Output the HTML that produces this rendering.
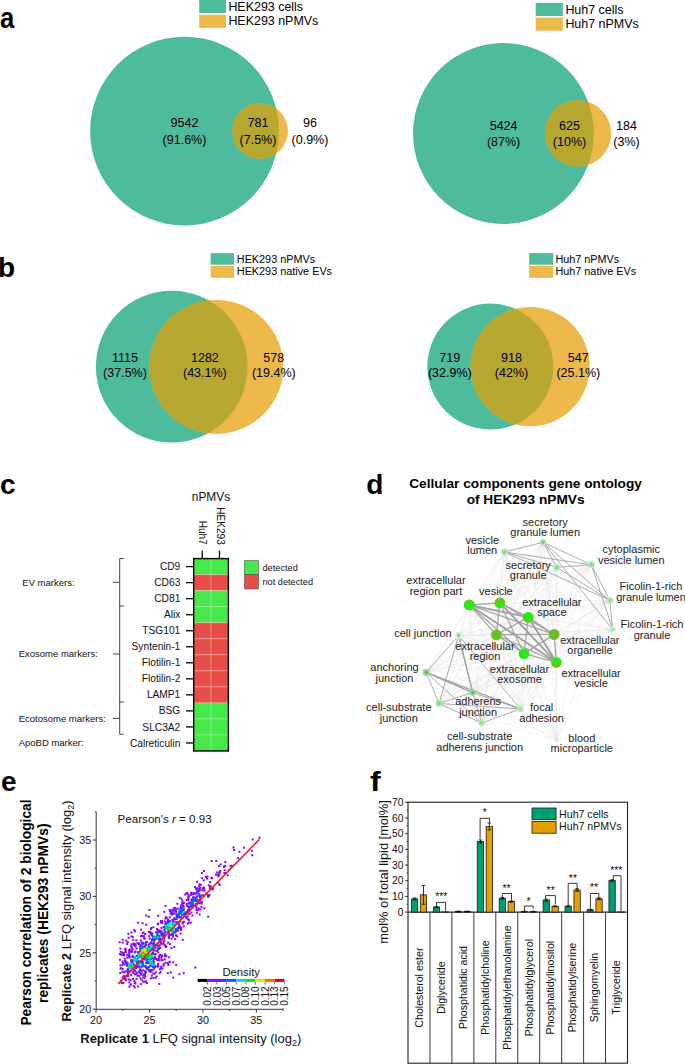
<!DOCTYPE html>
<html><head><meta charset="utf-8"><style>
html,body{margin:0;padding:0;background:#fff;width:685px;height:1064px;overflow:hidden}
svg{display:block}
text{font-family:"Liberation Sans", sans-serif}
</style></head><body>
<svg width="685" height="1064" viewBox="0 0 685 1064">
<text transform="translate(0,27.8) scale(0.92,1.05)" font-size="28" font-weight="bold">a</text>
<text x="-2.00" y="276.80" font-size="28" text-anchor="start" font-weight="bold" fill="#000" >b</text>
<rect x="199.2" y="0" width="26.8" height="12.9" fill="#4EBB9D"/>
<rect x="199.2" y="14.8" width="26.8" height="13.1" fill="#ECB94A"/>
<text x="228.40" y="10.60" font-size="12.45" text-anchor="start" font-weight="normal" fill="#000" >HEK293 cells</text>
<text x="228.40" y="25.30" font-size="12.45" text-anchor="start" font-weight="normal" fill="#000" >HEK293 nPMVs</text>
<defs><clipPath id="ca1"><circle cx="184.5" cy="131.1" r="94.4"/></clipPath></defs>
<circle cx="184.5" cy="131.1" r="94.4" fill="#4EBB9D"/>
<circle cx="260.1" cy="131.05" r="27.8" fill="#ECB94A"/>
<circle cx="260.1" cy="131.05" r="27.8" fill="#B7A832" clip-path="url(#ca1)"/>
<text x="184.50" y="127.30" font-size="12.5" text-anchor="middle" font-weight="normal" fill="#000" >9542</text>
<text x="184.50" y="143.70" font-size="12.5" text-anchor="middle" font-weight="normal" fill="#000" >(91.6%)</text>
<text x="258.00" y="127.30" font-size="12.5" text-anchor="middle" font-weight="normal" fill="#000" >781</text>
<text x="258.00" y="143.70" font-size="12.5" text-anchor="middle" font-weight="normal" fill="#000" >(7.5%)</text>
<text x="310.00" y="127.30" font-size="12.5" text-anchor="middle" font-weight="normal" fill="#000" >96</text>
<text x="310.00" y="143.70" font-size="12.5" text-anchor="middle" font-weight="normal" fill="#000" >(0.9%)</text>
<rect x="535.7" y="2.85" width="27.1" height="13.25" fill="#4EBB9D"/>
<rect x="535.7" y="17.65" width="27.1" height="13.05" fill="#ECB94A"/>
<text x="565.40" y="13.60" font-size="12.45" text-anchor="start" font-weight="normal" fill="#000" >Huh7 cells</text>
<text x="565.40" y="28.40" font-size="12.45" text-anchor="start" font-weight="normal" fill="#000" >Huh7 nPMVs</text>
<defs><clipPath id="ca2"><circle cx="503.4" cy="133.5" r="90.4"/></clipPath></defs>
<circle cx="503.4" cy="133.5" r="90.4" fill="#4EBB9D"/>
<circle cx="578" cy="133.4" r="33.2" fill="#ECB94A"/>
<circle cx="578" cy="133.4" r="33.2" fill="#B7A832" clip-path="url(#ca2)"/>
<text x="503.60" y="129.70" font-size="12.5" text-anchor="middle" font-weight="normal" fill="#000" >5424</text>
<text x="503.60" y="145.60" font-size="12.5" text-anchor="middle" font-weight="normal" fill="#000" >(87%)</text>
<text x="569.50" y="129.70" font-size="12.5" text-anchor="middle" font-weight="normal" fill="#000" >625</text>
<text x="569.50" y="145.60" font-size="12.5" text-anchor="middle" font-weight="normal" fill="#000" >(10%)</text>
<text x="626.50" y="129.70" font-size="12.5" text-anchor="middle" font-weight="normal" fill="#000" >184</text>
<text x="626.50" y="145.60" font-size="12.5" text-anchor="middle" font-weight="normal" fill="#000" >(3%)</text>
<rect x="210.7" y="253.1" width="23.3" height="11.6" fill="#4EBB9D"/>
<rect x="210.7" y="266" width="23.3" height="11.8" fill="#ECB94A"/>
<text x="236.80" y="262.70" font-size="10.85" text-anchor="start" font-weight="normal" fill="#000" >HEK293 nPMVs</text>
<text x="236.80" y="274.80" font-size="10.85" text-anchor="start" font-weight="normal" fill="#000" >HEK293 native EVs</text>
<defs><clipPath id="cb1"><circle cx="171.75" cy="366.7" r="75.9"/></clipPath></defs>
<circle cx="171.75" cy="366.7" r="75.9" fill="#4EBB9D"/>
<circle cx="216.3" cy="366.9" r="67" fill="#ECB94A"/>
<circle cx="216.3" cy="366.9" r="67" fill="#B7A832" clip-path="url(#cb1)"/>
<text x="125.00" y="362.20" font-size="12.5" text-anchor="middle" font-weight="normal" fill="#000" >1115</text>
<text x="125.00" y="377.00" font-size="12.5" text-anchor="middle" font-weight="normal" fill="#000" >(37.5%)</text>
<text x="204.90" y="362.20" font-size="12.5" text-anchor="middle" font-weight="normal" fill="#000" >1282</text>
<text x="204.90" y="377.00" font-size="12.5" text-anchor="middle" font-weight="normal" fill="#000" >(43.1%)</text>
<text x="273.80" y="362.20" font-size="12.5" text-anchor="middle" font-weight="normal" fill="#000" >578</text>
<text x="273.80" y="377.00" font-size="12.5" text-anchor="middle" font-weight="normal" fill="#000" >(19.4%)</text>
<rect x="529.2" y="253.1" width="23.9" height="11.6" fill="#4EBB9D"/>
<rect x="529.2" y="266" width="23.9" height="11.8" fill="#ECB94A"/>
<text x="555.40" y="262.70" font-size="10.85" text-anchor="start" font-weight="normal" fill="#000" >Huh7 nPMVs</text>
<text x="555.40" y="274.80" font-size="10.85" text-anchor="start" font-weight="normal" fill="#000" >Huh7 native EVs</text>
<defs><clipPath id="cb2"><circle cx="490.3" cy="366.6" r="63"/></clipPath></defs>
<circle cx="490.3" cy="366.6" r="63" fill="#4EBB9D"/>
<circle cx="530.1" cy="366.6" r="59.6" fill="#ECB94A"/>
<circle cx="530.1" cy="366.6" r="59.6" fill="#B7A832" clip-path="url(#cb2)"/>
<text x="449.80" y="361.90" font-size="12.5" text-anchor="middle" font-weight="normal" fill="#000" >719</text>
<text x="449.80" y="377.00" font-size="12.5" text-anchor="middle" font-weight="normal" fill="#000" >(32.9%)</text>
<text x="511.50" y="361.90" font-size="12.5" text-anchor="middle" font-weight="normal" fill="#000" >918</text>
<text x="511.50" y="377.00" font-size="12.5" text-anchor="middle" font-weight="normal" fill="#000" >(42%)</text>
<text x="578.30" y="361.90" font-size="12.5" text-anchor="middle" font-weight="normal" fill="#000" >547</text>
<text x="578.30" y="377.00" font-size="12.5" text-anchor="middle" font-weight="normal" fill="#000" >(25.1%)</text>
<text transform="translate(0,493.7)" font-size="28" font-weight="bold">c</text>
<rect x="193.7" y="558.60" width="34.70" height="16.03" fill="#46E84A"/>
<text x="180.30" y="570.22" font-size="10.2" text-anchor="end" font-weight="normal" fill="#111" >CD9</text>
<line x1="186" y1="566.62" x2="193.7" y2="566.62" stroke="#000" stroke-width="1.3"/>
<rect x="193.7" y="574.63" width="34.70" height="16.03" fill="#E84E48"/>
<text x="180.30" y="586.25" font-size="10.2" text-anchor="end" font-weight="normal" fill="#111" >CD63</text>
<line x1="186" y1="582.64" x2="193.7" y2="582.64" stroke="#000" stroke-width="1.3"/>
<rect x="193.7" y="590.66" width="34.70" height="16.03" fill="#46E84A"/>
<text x="180.30" y="602.28" font-size="10.2" text-anchor="end" font-weight="normal" fill="#111" >CD81</text>
<line x1="186" y1="598.68" x2="193.7" y2="598.68" stroke="#000" stroke-width="1.3"/>
<rect x="193.7" y="606.69" width="34.70" height="16.03" fill="#46E84A"/>
<text x="180.30" y="618.31" font-size="10.2" text-anchor="end" font-weight="normal" fill="#111" >Alix</text>
<line x1="186" y1="614.71" x2="193.7" y2="614.71" stroke="#000" stroke-width="1.3"/>
<rect x="193.7" y="622.72" width="34.70" height="16.03" fill="#E84E48"/>
<text x="180.30" y="634.34" font-size="10.2" text-anchor="end" font-weight="normal" fill="#111" >TSG101</text>
<line x1="186" y1="630.74" x2="193.7" y2="630.74" stroke="#000" stroke-width="1.3"/>
<rect x="193.7" y="638.75" width="34.70" height="16.03" fill="#E84E48"/>
<text x="180.30" y="650.37" font-size="10.2" text-anchor="end" font-weight="normal" fill="#111" >Syntenin-1</text>
<line x1="186" y1="646.76" x2="193.7" y2="646.76" stroke="#000" stroke-width="1.3"/>
<rect x="193.7" y="654.78" width="34.70" height="16.03" fill="#E84E48"/>
<text x="180.30" y="666.39" font-size="10.2" text-anchor="end" font-weight="normal" fill="#111" >Flotilin-1</text>
<line x1="186" y1="662.79" x2="193.7" y2="662.79" stroke="#000" stroke-width="1.3"/>
<rect x="193.7" y="670.81" width="34.70" height="16.03" fill="#E84E48"/>
<text x="180.30" y="682.43" font-size="10.2" text-anchor="end" font-weight="normal" fill="#111" >Flotilin-2</text>
<line x1="186" y1="678.83" x2="193.7" y2="678.83" stroke="#000" stroke-width="1.3"/>
<rect x="193.7" y="686.84" width="34.70" height="16.03" fill="#E84E48"/>
<text x="180.30" y="698.46" font-size="10.2" text-anchor="end" font-weight="normal" fill="#111" >LAMP1</text>
<line x1="186" y1="694.86" x2="193.7" y2="694.86" stroke="#000" stroke-width="1.3"/>
<rect x="193.7" y="702.87" width="34.70" height="16.03" fill="#46E84A"/>
<text x="180.30" y="714.49" font-size="10.2" text-anchor="end" font-weight="normal" fill="#111" >BSG</text>
<line x1="186" y1="710.88" x2="193.7" y2="710.88" stroke="#000" stroke-width="1.3"/>
<rect x="193.7" y="718.90" width="34.70" height="16.03" fill="#46E84A"/>
<text x="180.30" y="730.52" font-size="10.2" text-anchor="end" font-weight="normal" fill="#111" >SLC3A2</text>
<line x1="186" y1="726.92" x2="193.7" y2="726.92" stroke="#000" stroke-width="1.3"/>
<rect x="193.7" y="734.93" width="34.70" height="16.03" fill="#46E84A"/>
<text x="180.30" y="746.55" font-size="10.2" text-anchor="end" font-weight="normal" fill="#111" >Calreticulin</text>
<line x1="186" y1="742.95" x2="193.7" y2="742.95" stroke="#000" stroke-width="1.3"/>
<line x1="193.7" y1="574.63" x2="228.4" y2="574.63" stroke="#fff" stroke-opacity="0.3" stroke-width="1"/>
<line x1="193.7" y1="590.66" x2="228.4" y2="590.66" stroke="#fff" stroke-opacity="0.3" stroke-width="1"/>
<line x1="193.7" y1="606.69" x2="228.4" y2="606.69" stroke="#fff" stroke-opacity="0.3" stroke-width="1"/>
<line x1="193.7" y1="622.72" x2="228.4" y2="622.72" stroke="#fff" stroke-opacity="0.3" stroke-width="1"/>
<line x1="193.7" y1="638.75" x2="228.4" y2="638.75" stroke="#fff" stroke-opacity="0.3" stroke-width="1"/>
<line x1="193.7" y1="654.78" x2="228.4" y2="654.78" stroke="#fff" stroke-opacity="0.3" stroke-width="1"/>
<line x1="193.7" y1="670.81" x2="228.4" y2="670.81" stroke="#fff" stroke-opacity="0.3" stroke-width="1"/>
<line x1="193.7" y1="686.84" x2="228.4" y2="686.84" stroke="#fff" stroke-opacity="0.3" stroke-width="1"/>
<line x1="193.7" y1="702.87" x2="228.4" y2="702.87" stroke="#fff" stroke-opacity="0.3" stroke-width="1"/>
<line x1="193.7" y1="718.90" x2="228.4" y2="718.90" stroke="#fff" stroke-opacity="0.3" stroke-width="1"/>
<line x1="193.7" y1="734.93" x2="228.4" y2="734.93" stroke="#fff" stroke-opacity="0.3" stroke-width="1"/>
<line x1="210.9" y1="558.6" x2="210.9" y2="750.96" stroke="#fff" stroke-opacity="0.3" stroke-width="1.2"/>
<rect x="193.7" y="558.6" width="34.70" height="192.36" fill="none" stroke="#000" stroke-width="1.4"/>
<line x1="202.2" y1="550.6" x2="202.2" y2="558.6" stroke="#000" stroke-width="1.3"/>
<line x1="219.5" y1="550.6" x2="219.5" y2="558.6" stroke="#000" stroke-width="1.3"/>
<text x="211.00" y="501.40" font-size="11.9" text-anchor="middle" font-weight="normal" fill="#111" >nPMVs</text>
<text transform="translate(199.3,544.8) rotate(90)" font-size="10.1" text-anchor="end" fill="#111">Huh7</text>
<text transform="translate(216.7,544.8) rotate(90)" font-size="10.1" text-anchor="end" fill="#111">HEK293</text>
<rect x="244.5" y="560.5" width="14" height="14.2" fill="#46E84A" stroke="#555" stroke-width="0.6"/>
<rect x="244.5" y="574.7" width="14" height="14.3" fill="#E84E48" stroke="#555" stroke-width="0.6"/>
<text x="262.50" y="571.30" font-size="9.2" text-anchor="start" font-weight="normal" fill="#111" >detected</text>
<text x="262.50" y="584.80" font-size="9.2" text-anchor="start" font-weight="normal" fill="#111" >not detected</text>
<path d="M123.7,558.5 H119.7 V606 H123.7 M119.7,606 V702 H123.7 M119.7,702 V734.2 H123.7" fill="none" stroke="#444" stroke-width="1"/>
<line x1="113" y1="582.3" x2="119.7" y2="582.3" stroke="#444" stroke-width="1"/>
<line x1="113" y1="654.0" x2="119.7" y2="654.0" stroke="#444" stroke-width="1"/>
<line x1="113" y1="718.4" x2="119.7" y2="718.4" stroke="#444" stroke-width="1"/>
<text x="22.30" y="585.70" font-size="9.5" text-anchor="start" font-weight="normal" fill="#111" >EV markers:</text>
<text x="18.70" y="657.40" font-size="9.5" text-anchor="start" font-weight="normal" fill="#111" >Exosome markers:</text>
<text x="18.70" y="721.80" font-size="9.5" text-anchor="start" font-weight="normal" fill="#111" >Ecotosome markers:</text>
<text x="18.70" y="746.40" font-size="9.5" text-anchor="start" font-weight="normal" fill="#111" >ApoBD marker:</text>
<text transform="translate(366.3,493.6)" font-size="28" font-weight="bold">d</text>
<text x="525.60" y="487.60" font-size="13.7" text-anchor="middle" font-weight="bold" fill="#000" >Cellular components gene ontology</text>
<text x="525.60" y="504.20" font-size="13.7" text-anchor="middle" font-weight="bold" fill="#000" >of HEK293 nPMVs</text>
<line x1="469.3" y1="604.9" x2="499.9" y2="602.8" stroke="#d4d4d4" stroke-width="0.5" stroke-opacity="0.45"/>
<line x1="469.3" y1="604.9" x2="528.3" y2="617.3" stroke="#d4d4d4" stroke-width="0.5" stroke-opacity="0.45"/>
<line x1="469.3" y1="604.9" x2="496.4" y2="634.8" stroke="#d4d4d4" stroke-width="0.5" stroke-opacity="0.45"/>
<line x1="469.3" y1="604.9" x2="554.2" y2="634.4" stroke="#d4d4d4" stroke-width="0.5" stroke-opacity="0.45"/>
<line x1="469.3" y1="604.9" x2="524.0" y2="653.7" stroke="#d4d4d4" stroke-width="0.5" stroke-opacity="0.45"/>
<line x1="469.3" y1="604.9" x2="556.4" y2="662.3" stroke="#d4d4d4" stroke-width="0.5" stroke-opacity="0.45"/>
<line x1="469.3" y1="604.9" x2="458.6" y2="635.5" stroke="#d4d4d4" stroke-width="0.5" stroke-opacity="0.45"/>
<line x1="469.3" y1="604.9" x2="504.4" y2="552.0" stroke="#d4d4d4" stroke-width="0.5" stroke-opacity="0.45"/>
<line x1="469.3" y1="604.9" x2="543.1" y2="542.3" stroke="#d4d4d4" stroke-width="0.5" stroke-opacity="0.45"/>
<line x1="469.3" y1="604.9" x2="556.8" y2="567.4" stroke="#d4d4d4" stroke-width="0.5" stroke-opacity="0.45"/>
<line x1="469.3" y1="604.9" x2="591.4" y2="564.8" stroke="#d4d4d4" stroke-width="0.5" stroke-opacity="0.45"/>
<line x1="469.3" y1="604.9" x2="609.8" y2="600.4" stroke="#d4d4d4" stroke-width="0.5" stroke-opacity="0.45"/>
<line x1="469.3" y1="604.9" x2="612.7" y2="629.5" stroke="#d4d4d4" stroke-width="0.5" stroke-opacity="0.45"/>
<line x1="469.3" y1="604.9" x2="426.2" y2="672.4" stroke="#d4d4d4" stroke-width="0.5" stroke-opacity="0.45"/>
<line x1="469.3" y1="604.9" x2="472.7" y2="692.6" stroke="#d4d4d4" stroke-width="0.5" stroke-opacity="0.45"/>
<line x1="469.3" y1="604.9" x2="439.0" y2="703.5" stroke="#d4d4d4" stroke-width="0.5" stroke-opacity="0.45"/>
<line x1="469.3" y1="604.9" x2="520.4" y2="708.9" stroke="#d4d4d4" stroke-width="0.5" stroke-opacity="0.45"/>
<line x1="469.3" y1="604.9" x2="481.6" y2="723.0" stroke="#d4d4d4" stroke-width="0.5" stroke-opacity="0.45"/>
<line x1="469.3" y1="604.9" x2="556.8" y2="739.6" stroke="#d4d4d4" stroke-width="0.5" stroke-opacity="0.45"/>
<line x1="499.9" y1="602.8" x2="528.3" y2="617.3" stroke="#d4d4d4" stroke-width="0.5" stroke-opacity="0.45"/>
<line x1="499.9" y1="602.8" x2="496.4" y2="634.8" stroke="#d4d4d4" stroke-width="0.5" stroke-opacity="0.45"/>
<line x1="499.9" y1="602.8" x2="554.2" y2="634.4" stroke="#d4d4d4" stroke-width="0.5" stroke-opacity="0.45"/>
<line x1="499.9" y1="602.8" x2="524.0" y2="653.7" stroke="#d4d4d4" stroke-width="0.5" stroke-opacity="0.45"/>
<line x1="499.9" y1="602.8" x2="556.4" y2="662.3" stroke="#d4d4d4" stroke-width="0.5" stroke-opacity="0.45"/>
<line x1="499.9" y1="602.8" x2="458.6" y2="635.5" stroke="#d4d4d4" stroke-width="0.5" stroke-opacity="0.45"/>
<line x1="499.9" y1="602.8" x2="504.4" y2="552.0" stroke="#d4d4d4" stroke-width="0.5" stroke-opacity="0.45"/>
<line x1="499.9" y1="602.8" x2="543.1" y2="542.3" stroke="#d4d4d4" stroke-width="0.5" stroke-opacity="0.45"/>
<line x1="499.9" y1="602.8" x2="556.8" y2="567.4" stroke="#d4d4d4" stroke-width="0.5" stroke-opacity="0.45"/>
<line x1="499.9" y1="602.8" x2="591.4" y2="564.8" stroke="#d4d4d4" stroke-width="0.5" stroke-opacity="0.45"/>
<line x1="499.9" y1="602.8" x2="609.8" y2="600.4" stroke="#d4d4d4" stroke-width="0.5" stroke-opacity="0.45"/>
<line x1="499.9" y1="602.8" x2="612.7" y2="629.5" stroke="#d4d4d4" stroke-width="0.5" stroke-opacity="0.45"/>
<line x1="499.9" y1="602.8" x2="426.2" y2="672.4" stroke="#d4d4d4" stroke-width="0.5" stroke-opacity="0.45"/>
<line x1="499.9" y1="602.8" x2="472.7" y2="692.6" stroke="#d4d4d4" stroke-width="0.5" stroke-opacity="0.45"/>
<line x1="499.9" y1="602.8" x2="439.0" y2="703.5" stroke="#d4d4d4" stroke-width="0.5" stroke-opacity="0.45"/>
<line x1="499.9" y1="602.8" x2="520.4" y2="708.9" stroke="#d4d4d4" stroke-width="0.5" stroke-opacity="0.45"/>
<line x1="499.9" y1="602.8" x2="481.6" y2="723.0" stroke="#d4d4d4" stroke-width="0.5" stroke-opacity="0.45"/>
<line x1="499.9" y1="602.8" x2="556.8" y2="739.6" stroke="#d4d4d4" stroke-width="0.5" stroke-opacity="0.45"/>
<line x1="528.3" y1="617.3" x2="496.4" y2="634.8" stroke="#d4d4d4" stroke-width="0.5" stroke-opacity="0.45"/>
<line x1="528.3" y1="617.3" x2="554.2" y2="634.4" stroke="#d4d4d4" stroke-width="0.5" stroke-opacity="0.45"/>
<line x1="528.3" y1="617.3" x2="524.0" y2="653.7" stroke="#d4d4d4" stroke-width="0.5" stroke-opacity="0.45"/>
<line x1="528.3" y1="617.3" x2="556.4" y2="662.3" stroke="#d4d4d4" stroke-width="0.5" stroke-opacity="0.45"/>
<line x1="528.3" y1="617.3" x2="458.6" y2="635.5" stroke="#d4d4d4" stroke-width="0.5" stroke-opacity="0.45"/>
<line x1="528.3" y1="617.3" x2="504.4" y2="552.0" stroke="#d4d4d4" stroke-width="0.5" stroke-opacity="0.45"/>
<line x1="528.3" y1="617.3" x2="543.1" y2="542.3" stroke="#d4d4d4" stroke-width="0.5" stroke-opacity="0.45"/>
<line x1="528.3" y1="617.3" x2="556.8" y2="567.4" stroke="#d4d4d4" stroke-width="0.5" stroke-opacity="0.45"/>
<line x1="528.3" y1="617.3" x2="591.4" y2="564.8" stroke="#d4d4d4" stroke-width="0.5" stroke-opacity="0.45"/>
<line x1="528.3" y1="617.3" x2="609.8" y2="600.4" stroke="#d4d4d4" stroke-width="0.5" stroke-opacity="0.45"/>
<line x1="528.3" y1="617.3" x2="612.7" y2="629.5" stroke="#d4d4d4" stroke-width="0.5" stroke-opacity="0.45"/>
<line x1="528.3" y1="617.3" x2="426.2" y2="672.4" stroke="#d4d4d4" stroke-width="0.5" stroke-opacity="0.45"/>
<line x1="528.3" y1="617.3" x2="472.7" y2="692.6" stroke="#d4d4d4" stroke-width="0.5" stroke-opacity="0.45"/>
<line x1="528.3" y1="617.3" x2="439.0" y2="703.5" stroke="#d4d4d4" stroke-width="0.5" stroke-opacity="0.45"/>
<line x1="528.3" y1="617.3" x2="520.4" y2="708.9" stroke="#d4d4d4" stroke-width="0.5" stroke-opacity="0.45"/>
<line x1="528.3" y1="617.3" x2="481.6" y2="723.0" stroke="#d4d4d4" stroke-width="0.5" stroke-opacity="0.45"/>
<line x1="528.3" y1="617.3" x2="556.8" y2="739.6" stroke="#d4d4d4" stroke-width="0.5" stroke-opacity="0.45"/>
<line x1="496.4" y1="634.8" x2="554.2" y2="634.4" stroke="#d4d4d4" stroke-width="0.5" stroke-opacity="0.45"/>
<line x1="496.4" y1="634.8" x2="524.0" y2="653.7" stroke="#d4d4d4" stroke-width="0.5" stroke-opacity="0.45"/>
<line x1="496.4" y1="634.8" x2="556.4" y2="662.3" stroke="#d4d4d4" stroke-width="0.5" stroke-opacity="0.45"/>
<line x1="496.4" y1="634.8" x2="458.6" y2="635.5" stroke="#d4d4d4" stroke-width="0.5" stroke-opacity="0.45"/>
<line x1="496.4" y1="634.8" x2="504.4" y2="552.0" stroke="#d4d4d4" stroke-width="0.5" stroke-opacity="0.45"/>
<line x1="496.4" y1="634.8" x2="543.1" y2="542.3" stroke="#d4d4d4" stroke-width="0.5" stroke-opacity="0.45"/>
<line x1="496.4" y1="634.8" x2="556.8" y2="567.4" stroke="#d4d4d4" stroke-width="0.5" stroke-opacity="0.45"/>
<line x1="496.4" y1="634.8" x2="591.4" y2="564.8" stroke="#d4d4d4" stroke-width="0.5" stroke-opacity="0.45"/>
<line x1="496.4" y1="634.8" x2="609.8" y2="600.4" stroke="#d4d4d4" stroke-width="0.5" stroke-opacity="0.45"/>
<line x1="496.4" y1="634.8" x2="612.7" y2="629.5" stroke="#d4d4d4" stroke-width="0.5" stroke-opacity="0.45"/>
<line x1="496.4" y1="634.8" x2="426.2" y2="672.4" stroke="#d4d4d4" stroke-width="0.5" stroke-opacity="0.45"/>
<line x1="496.4" y1="634.8" x2="472.7" y2="692.6" stroke="#d4d4d4" stroke-width="0.5" stroke-opacity="0.45"/>
<line x1="496.4" y1="634.8" x2="439.0" y2="703.5" stroke="#d4d4d4" stroke-width="0.5" stroke-opacity="0.45"/>
<line x1="496.4" y1="634.8" x2="520.4" y2="708.9" stroke="#d4d4d4" stroke-width="0.5" stroke-opacity="0.45"/>
<line x1="496.4" y1="634.8" x2="481.6" y2="723.0" stroke="#d4d4d4" stroke-width="0.5" stroke-opacity="0.45"/>
<line x1="496.4" y1="634.8" x2="556.8" y2="739.6" stroke="#d4d4d4" stroke-width="0.5" stroke-opacity="0.45"/>
<line x1="554.2" y1="634.4" x2="524.0" y2="653.7" stroke="#d4d4d4" stroke-width="0.5" stroke-opacity="0.45"/>
<line x1="554.2" y1="634.4" x2="556.4" y2="662.3" stroke="#d4d4d4" stroke-width="0.5" stroke-opacity="0.45"/>
<line x1="554.2" y1="634.4" x2="458.6" y2="635.5" stroke="#d4d4d4" stroke-width="0.5" stroke-opacity="0.45"/>
<line x1="554.2" y1="634.4" x2="504.4" y2="552.0" stroke="#d4d4d4" stroke-width="0.5" stroke-opacity="0.45"/>
<line x1="554.2" y1="634.4" x2="543.1" y2="542.3" stroke="#d4d4d4" stroke-width="0.5" stroke-opacity="0.45"/>
<line x1="554.2" y1="634.4" x2="556.8" y2="567.4" stroke="#d4d4d4" stroke-width="0.5" stroke-opacity="0.45"/>
<line x1="554.2" y1="634.4" x2="591.4" y2="564.8" stroke="#d4d4d4" stroke-width="0.5" stroke-opacity="0.45"/>
<line x1="554.2" y1="634.4" x2="609.8" y2="600.4" stroke="#d4d4d4" stroke-width="0.5" stroke-opacity="0.45"/>
<line x1="554.2" y1="634.4" x2="612.7" y2="629.5" stroke="#d4d4d4" stroke-width="0.5" stroke-opacity="0.45"/>
<line x1="554.2" y1="634.4" x2="426.2" y2="672.4" stroke="#d4d4d4" stroke-width="0.5" stroke-opacity="0.45"/>
<line x1="554.2" y1="634.4" x2="472.7" y2="692.6" stroke="#d4d4d4" stroke-width="0.5" stroke-opacity="0.45"/>
<line x1="554.2" y1="634.4" x2="439.0" y2="703.5" stroke="#d4d4d4" stroke-width="0.5" stroke-opacity="0.45"/>
<line x1="554.2" y1="634.4" x2="520.4" y2="708.9" stroke="#d4d4d4" stroke-width="0.5" stroke-opacity="0.45"/>
<line x1="554.2" y1="634.4" x2="481.6" y2="723.0" stroke="#d4d4d4" stroke-width="0.5" stroke-opacity="0.45"/>
<line x1="554.2" y1="634.4" x2="556.8" y2="739.6" stroke="#d4d4d4" stroke-width="0.5" stroke-opacity="0.45"/>
<line x1="524.0" y1="653.7" x2="556.4" y2="662.3" stroke="#d4d4d4" stroke-width="0.5" stroke-opacity="0.45"/>
<line x1="524.0" y1="653.7" x2="458.6" y2="635.5" stroke="#d4d4d4" stroke-width="0.5" stroke-opacity="0.45"/>
<line x1="524.0" y1="653.7" x2="504.4" y2="552.0" stroke="#d4d4d4" stroke-width="0.5" stroke-opacity="0.45"/>
<line x1="524.0" y1="653.7" x2="543.1" y2="542.3" stroke="#d4d4d4" stroke-width="0.5" stroke-opacity="0.45"/>
<line x1="524.0" y1="653.7" x2="556.8" y2="567.4" stroke="#d4d4d4" stroke-width="0.5" stroke-opacity="0.45"/>
<line x1="524.0" y1="653.7" x2="591.4" y2="564.8" stroke="#d4d4d4" stroke-width="0.5" stroke-opacity="0.45"/>
<line x1="524.0" y1="653.7" x2="609.8" y2="600.4" stroke="#d4d4d4" stroke-width="0.5" stroke-opacity="0.45"/>
<line x1="524.0" y1="653.7" x2="612.7" y2="629.5" stroke="#d4d4d4" stroke-width="0.5" stroke-opacity="0.45"/>
<line x1="524.0" y1="653.7" x2="426.2" y2="672.4" stroke="#d4d4d4" stroke-width="0.5" stroke-opacity="0.45"/>
<line x1="524.0" y1="653.7" x2="472.7" y2="692.6" stroke="#d4d4d4" stroke-width="0.5" stroke-opacity="0.45"/>
<line x1="524.0" y1="653.7" x2="439.0" y2="703.5" stroke="#d4d4d4" stroke-width="0.5" stroke-opacity="0.45"/>
<line x1="524.0" y1="653.7" x2="520.4" y2="708.9" stroke="#d4d4d4" stroke-width="0.5" stroke-opacity="0.45"/>
<line x1="524.0" y1="653.7" x2="481.6" y2="723.0" stroke="#d4d4d4" stroke-width="0.5" stroke-opacity="0.45"/>
<line x1="524.0" y1="653.7" x2="556.8" y2="739.6" stroke="#d4d4d4" stroke-width="0.5" stroke-opacity="0.45"/>
<line x1="556.4" y1="662.3" x2="458.6" y2="635.5" stroke="#d4d4d4" stroke-width="0.5" stroke-opacity="0.45"/>
<line x1="556.4" y1="662.3" x2="504.4" y2="552.0" stroke="#d4d4d4" stroke-width="0.5" stroke-opacity="0.45"/>
<line x1="556.4" y1="662.3" x2="543.1" y2="542.3" stroke="#d4d4d4" stroke-width="0.5" stroke-opacity="0.45"/>
<line x1="556.4" y1="662.3" x2="556.8" y2="567.4" stroke="#d4d4d4" stroke-width="0.5" stroke-opacity="0.45"/>
<line x1="556.4" y1="662.3" x2="591.4" y2="564.8" stroke="#d4d4d4" stroke-width="0.5" stroke-opacity="0.45"/>
<line x1="556.4" y1="662.3" x2="609.8" y2="600.4" stroke="#d4d4d4" stroke-width="0.5" stroke-opacity="0.45"/>
<line x1="556.4" y1="662.3" x2="612.7" y2="629.5" stroke="#d4d4d4" stroke-width="0.5" stroke-opacity="0.45"/>
<line x1="556.4" y1="662.3" x2="426.2" y2="672.4" stroke="#d4d4d4" stroke-width="0.5" stroke-opacity="0.45"/>
<line x1="556.4" y1="662.3" x2="472.7" y2="692.6" stroke="#d4d4d4" stroke-width="0.5" stroke-opacity="0.45"/>
<line x1="556.4" y1="662.3" x2="439.0" y2="703.5" stroke="#d4d4d4" stroke-width="0.5" stroke-opacity="0.45"/>
<line x1="556.4" y1="662.3" x2="520.4" y2="708.9" stroke="#d4d4d4" stroke-width="0.5" stroke-opacity="0.45"/>
<line x1="556.4" y1="662.3" x2="481.6" y2="723.0" stroke="#d4d4d4" stroke-width="0.5" stroke-opacity="0.45"/>
<line x1="556.4" y1="662.3" x2="556.8" y2="739.6" stroke="#d4d4d4" stroke-width="0.5" stroke-opacity="0.45"/>
<line x1="458.6" y1="635.5" x2="504.4" y2="552.0" stroke="#d4d4d4" stroke-width="0.5" stroke-opacity="0.45"/>
<line x1="458.6" y1="635.5" x2="543.1" y2="542.3" stroke="#d4d4d4" stroke-width="0.5" stroke-opacity="0.45"/>
<line x1="458.6" y1="635.5" x2="556.8" y2="567.4" stroke="#d4d4d4" stroke-width="0.5" stroke-opacity="0.45"/>
<line x1="458.6" y1="635.5" x2="591.4" y2="564.8" stroke="#d4d4d4" stroke-width="0.5" stroke-opacity="0.45"/>
<line x1="458.6" y1="635.5" x2="609.8" y2="600.4" stroke="#d4d4d4" stroke-width="0.5" stroke-opacity="0.45"/>
<line x1="458.6" y1="635.5" x2="612.7" y2="629.5" stroke="#d4d4d4" stroke-width="0.5" stroke-opacity="0.45"/>
<line x1="458.6" y1="635.5" x2="426.2" y2="672.4" stroke="#d4d4d4" stroke-width="0.5" stroke-opacity="0.45"/>
<line x1="458.6" y1="635.5" x2="472.7" y2="692.6" stroke="#d4d4d4" stroke-width="0.5" stroke-opacity="0.45"/>
<line x1="458.6" y1="635.5" x2="439.0" y2="703.5" stroke="#d4d4d4" stroke-width="0.5" stroke-opacity="0.45"/>
<line x1="458.6" y1="635.5" x2="520.4" y2="708.9" stroke="#d4d4d4" stroke-width="0.5" stroke-opacity="0.45"/>
<line x1="458.6" y1="635.5" x2="481.6" y2="723.0" stroke="#d4d4d4" stroke-width="0.5" stroke-opacity="0.45"/>
<line x1="458.6" y1="635.5" x2="556.8" y2="739.6" stroke="#d4d4d4" stroke-width="0.5" stroke-opacity="0.45"/>
<line x1="504.4" y1="552.0" x2="543.1" y2="542.3" stroke="#d4d4d4" stroke-width="0.5" stroke-opacity="0.45"/>
<line x1="504.4" y1="552.0" x2="556.8" y2="567.4" stroke="#d4d4d4" stroke-width="0.5" stroke-opacity="0.45"/>
<line x1="504.4" y1="552.0" x2="591.4" y2="564.8" stroke="#d4d4d4" stroke-width="0.5" stroke-opacity="0.45"/>
<line x1="504.4" y1="552.0" x2="609.8" y2="600.4" stroke="#d4d4d4" stroke-width="0.5" stroke-opacity="0.45"/>
<line x1="504.4" y1="552.0" x2="612.7" y2="629.5" stroke="#d4d4d4" stroke-width="0.5" stroke-opacity="0.45"/>
<line x1="504.4" y1="552.0" x2="426.2" y2="672.4" stroke="#d4d4d4" stroke-width="0.5" stroke-opacity="0.45"/>
<line x1="504.4" y1="552.0" x2="472.7" y2="692.6" stroke="#d4d4d4" stroke-width="0.5" stroke-opacity="0.45"/>
<line x1="504.4" y1="552.0" x2="439.0" y2="703.5" stroke="#d4d4d4" stroke-width="0.5" stroke-opacity="0.45"/>
<line x1="504.4" y1="552.0" x2="520.4" y2="708.9" stroke="#d4d4d4" stroke-width="0.5" stroke-opacity="0.45"/>
<line x1="504.4" y1="552.0" x2="481.6" y2="723.0" stroke="#d4d4d4" stroke-width="0.5" stroke-opacity="0.45"/>
<line x1="504.4" y1="552.0" x2="556.8" y2="739.6" stroke="#d4d4d4" stroke-width="0.5" stroke-opacity="0.45"/>
<line x1="543.1" y1="542.3" x2="556.8" y2="567.4" stroke="#d4d4d4" stroke-width="0.5" stroke-opacity="0.45"/>
<line x1="543.1" y1="542.3" x2="591.4" y2="564.8" stroke="#d4d4d4" stroke-width="0.5" stroke-opacity="0.45"/>
<line x1="543.1" y1="542.3" x2="609.8" y2="600.4" stroke="#d4d4d4" stroke-width="0.5" stroke-opacity="0.45"/>
<line x1="543.1" y1="542.3" x2="612.7" y2="629.5" stroke="#d4d4d4" stroke-width="0.5" stroke-opacity="0.45"/>
<line x1="543.1" y1="542.3" x2="426.2" y2="672.4" stroke="#d4d4d4" stroke-width="0.5" stroke-opacity="0.45"/>
<line x1="543.1" y1="542.3" x2="472.7" y2="692.6" stroke="#d4d4d4" stroke-width="0.5" stroke-opacity="0.45"/>
<line x1="543.1" y1="542.3" x2="439.0" y2="703.5" stroke="#d4d4d4" stroke-width="0.5" stroke-opacity="0.45"/>
<line x1="543.1" y1="542.3" x2="520.4" y2="708.9" stroke="#d4d4d4" stroke-width="0.5" stroke-opacity="0.45"/>
<line x1="543.1" y1="542.3" x2="481.6" y2="723.0" stroke="#d4d4d4" stroke-width="0.5" stroke-opacity="0.45"/>
<line x1="543.1" y1="542.3" x2="556.8" y2="739.6" stroke="#d4d4d4" stroke-width="0.5" stroke-opacity="0.45"/>
<line x1="556.8" y1="567.4" x2="591.4" y2="564.8" stroke="#d4d4d4" stroke-width="0.5" stroke-opacity="0.45"/>
<line x1="556.8" y1="567.4" x2="609.8" y2="600.4" stroke="#d4d4d4" stroke-width="0.5" stroke-opacity="0.45"/>
<line x1="556.8" y1="567.4" x2="612.7" y2="629.5" stroke="#d4d4d4" stroke-width="0.5" stroke-opacity="0.45"/>
<line x1="556.8" y1="567.4" x2="426.2" y2="672.4" stroke="#d4d4d4" stroke-width="0.5" stroke-opacity="0.45"/>
<line x1="556.8" y1="567.4" x2="472.7" y2="692.6" stroke="#d4d4d4" stroke-width="0.5" stroke-opacity="0.45"/>
<line x1="556.8" y1="567.4" x2="439.0" y2="703.5" stroke="#d4d4d4" stroke-width="0.5" stroke-opacity="0.45"/>
<line x1="556.8" y1="567.4" x2="520.4" y2="708.9" stroke="#d4d4d4" stroke-width="0.5" stroke-opacity="0.45"/>
<line x1="556.8" y1="567.4" x2="481.6" y2="723.0" stroke="#d4d4d4" stroke-width="0.5" stroke-opacity="0.45"/>
<line x1="556.8" y1="567.4" x2="556.8" y2="739.6" stroke="#d4d4d4" stroke-width="0.5" stroke-opacity="0.45"/>
<line x1="591.4" y1="564.8" x2="609.8" y2="600.4" stroke="#d4d4d4" stroke-width="0.5" stroke-opacity="0.45"/>
<line x1="591.4" y1="564.8" x2="612.7" y2="629.5" stroke="#d4d4d4" stroke-width="0.5" stroke-opacity="0.45"/>
<line x1="591.4" y1="564.8" x2="426.2" y2="672.4" stroke="#d4d4d4" stroke-width="0.5" stroke-opacity="0.45"/>
<line x1="591.4" y1="564.8" x2="472.7" y2="692.6" stroke="#d4d4d4" stroke-width="0.5" stroke-opacity="0.45"/>
<line x1="591.4" y1="564.8" x2="439.0" y2="703.5" stroke="#d4d4d4" stroke-width="0.5" stroke-opacity="0.45"/>
<line x1="591.4" y1="564.8" x2="520.4" y2="708.9" stroke="#d4d4d4" stroke-width="0.5" stroke-opacity="0.45"/>
<line x1="591.4" y1="564.8" x2="481.6" y2="723.0" stroke="#d4d4d4" stroke-width="0.5" stroke-opacity="0.45"/>
<line x1="591.4" y1="564.8" x2="556.8" y2="739.6" stroke="#d4d4d4" stroke-width="0.5" stroke-opacity="0.45"/>
<line x1="609.8" y1="600.4" x2="612.7" y2="629.5" stroke="#d4d4d4" stroke-width="0.5" stroke-opacity="0.45"/>
<line x1="609.8" y1="600.4" x2="426.2" y2="672.4" stroke="#d4d4d4" stroke-width="0.5" stroke-opacity="0.45"/>
<line x1="609.8" y1="600.4" x2="472.7" y2="692.6" stroke="#d4d4d4" stroke-width="0.5" stroke-opacity="0.45"/>
<line x1="609.8" y1="600.4" x2="439.0" y2="703.5" stroke="#d4d4d4" stroke-width="0.5" stroke-opacity="0.45"/>
<line x1="609.8" y1="600.4" x2="520.4" y2="708.9" stroke="#d4d4d4" stroke-width="0.5" stroke-opacity="0.45"/>
<line x1="609.8" y1="600.4" x2="481.6" y2="723.0" stroke="#d4d4d4" stroke-width="0.5" stroke-opacity="0.45"/>
<line x1="609.8" y1="600.4" x2="556.8" y2="739.6" stroke="#d4d4d4" stroke-width="0.5" stroke-opacity="0.45"/>
<line x1="612.7" y1="629.5" x2="426.2" y2="672.4" stroke="#d4d4d4" stroke-width="0.5" stroke-opacity="0.45"/>
<line x1="612.7" y1="629.5" x2="472.7" y2="692.6" stroke="#d4d4d4" stroke-width="0.5" stroke-opacity="0.45"/>
<line x1="612.7" y1="629.5" x2="439.0" y2="703.5" stroke="#d4d4d4" stroke-width="0.5" stroke-opacity="0.45"/>
<line x1="612.7" y1="629.5" x2="520.4" y2="708.9" stroke="#d4d4d4" stroke-width="0.5" stroke-opacity="0.45"/>
<line x1="612.7" y1="629.5" x2="481.6" y2="723.0" stroke="#d4d4d4" stroke-width="0.5" stroke-opacity="0.45"/>
<line x1="612.7" y1="629.5" x2="556.8" y2="739.6" stroke="#d4d4d4" stroke-width="0.5" stroke-opacity="0.45"/>
<line x1="426.2" y1="672.4" x2="472.7" y2="692.6" stroke="#d4d4d4" stroke-width="0.5" stroke-opacity="0.45"/>
<line x1="426.2" y1="672.4" x2="439.0" y2="703.5" stroke="#d4d4d4" stroke-width="0.5" stroke-opacity="0.45"/>
<line x1="426.2" y1="672.4" x2="520.4" y2="708.9" stroke="#d4d4d4" stroke-width="0.5" stroke-opacity="0.45"/>
<line x1="426.2" y1="672.4" x2="481.6" y2="723.0" stroke="#d4d4d4" stroke-width="0.5" stroke-opacity="0.45"/>
<line x1="426.2" y1="672.4" x2="556.8" y2="739.6" stroke="#d4d4d4" stroke-width="0.5" stroke-opacity="0.45"/>
<line x1="472.7" y1="692.6" x2="439.0" y2="703.5" stroke="#d4d4d4" stroke-width="0.5" stroke-opacity="0.45"/>
<line x1="472.7" y1="692.6" x2="520.4" y2="708.9" stroke="#d4d4d4" stroke-width="0.5" stroke-opacity="0.45"/>
<line x1="472.7" y1="692.6" x2="481.6" y2="723.0" stroke="#d4d4d4" stroke-width="0.5" stroke-opacity="0.45"/>
<line x1="472.7" y1="692.6" x2="556.8" y2="739.6" stroke="#d4d4d4" stroke-width="0.5" stroke-opacity="0.45"/>
<line x1="439.0" y1="703.5" x2="520.4" y2="708.9" stroke="#d4d4d4" stroke-width="0.5" stroke-opacity="0.45"/>
<line x1="439.0" y1="703.5" x2="481.6" y2="723.0" stroke="#d4d4d4" stroke-width="0.5" stroke-opacity="0.45"/>
<line x1="439.0" y1="703.5" x2="556.8" y2="739.6" stroke="#d4d4d4" stroke-width="0.5" stroke-opacity="0.45"/>
<line x1="520.4" y1="708.9" x2="481.6" y2="723.0" stroke="#d4d4d4" stroke-width="0.5" stroke-opacity="0.45"/>
<line x1="520.4" y1="708.9" x2="556.8" y2="739.6" stroke="#d4d4d4" stroke-width="0.5" stroke-opacity="0.45"/>
<line x1="481.6" y1="723.0" x2="556.8" y2="739.6" stroke="#d4d4d4" stroke-width="0.5" stroke-opacity="0.45"/>
<line x1="504.4" y1="552.0" x2="543.1" y2="542.3" stroke="#a6a6a6" stroke-width="0.9" stroke-opacity="1.0"/>
<line x1="504.4" y1="552.0" x2="591.4" y2="564.8" stroke="#a6a6a6" stroke-width="0.9" stroke-opacity="1.0"/>
<line x1="504.4" y1="552.0" x2="556.8" y2="567.4" stroke="#a6a6a6" stroke-width="0.9" stroke-opacity="1.0"/>
<line x1="543.1" y1="542.3" x2="591.4" y2="564.8" stroke="#a6a6a6" stroke-width="0.9" stroke-opacity="1.0"/>
<line x1="543.1" y1="542.3" x2="556.8" y2="567.4" stroke="#a6a6a6" stroke-width="0.9" stroke-opacity="1.0"/>
<line x1="556.8" y1="567.4" x2="591.4" y2="564.8" stroke="#a6a6a6" stroke-width="0.9" stroke-opacity="1.0"/>
<line x1="543.1" y1="542.3" x2="609.8" y2="600.4" stroke="#a6a6a6" stroke-width="0.9" stroke-opacity="1.0"/>
<line x1="543.1" y1="542.3" x2="612.7" y2="629.5" stroke="#a6a6a6" stroke-width="0.9" stroke-opacity="1.0"/>
<line x1="591.4" y1="564.8" x2="609.8" y2="600.4" stroke="#a6a6a6" stroke-width="0.9" stroke-opacity="1.0"/>
<line x1="591.4" y1="564.8" x2="612.7" y2="629.5" stroke="#a6a6a6" stroke-width="0.9" stroke-opacity="1.0"/>
<line x1="609.8" y1="600.4" x2="612.7" y2="629.5" stroke="#a6a6a6" stroke-width="0.9" stroke-opacity="1.0"/>
<line x1="504.4" y1="552.0" x2="609.8" y2="600.4" stroke="#a6a6a6" stroke-width="0.9" stroke-opacity="1.0"/>
<line x1="556.8" y1="567.4" x2="609.8" y2="600.4" stroke="#a6a6a6" stroke-width="0.9" stroke-opacity="1.0"/>
<line x1="458.6" y1="635.5" x2="426.2" y2="672.4" stroke="#a6a6a6" stroke-width="0.9" stroke-opacity="1.0"/>
<line x1="458.6" y1="635.5" x2="439.0" y2="703.5" stroke="#a6a6a6" stroke-width="0.9" stroke-opacity="1.0"/>
<line x1="458.6" y1="635.5" x2="472.7" y2="692.6" stroke="#a6a6a6" stroke-width="0.9" stroke-opacity="1.0"/>
<line x1="458.6" y1="635.5" x2="520.4" y2="708.9" stroke="#a6a6a6" stroke-width="0.9" stroke-opacity="1.0"/>
<line x1="426.2" y1="672.4" x2="439.0" y2="703.5" stroke="#a6a6a6" stroke-width="0.9" stroke-opacity="1.0"/>
<line x1="426.2" y1="672.4" x2="481.6" y2="723.0" stroke="#a6a6a6" stroke-width="0.9" stroke-opacity="1.0"/>
<line x1="439.0" y1="703.5" x2="472.7" y2="692.6" stroke="#a6a6a6" stroke-width="0.9" stroke-opacity="1.0"/>
<line x1="439.0" y1="703.5" x2="520.4" y2="708.9" stroke="#a6a6a6" stroke-width="0.9" stroke-opacity="1.0"/>
<line x1="439.0" y1="703.5" x2="481.6" y2="723.0" stroke="#a6a6a6" stroke-width="0.9" stroke-opacity="1.0"/>
<line x1="472.7" y1="692.6" x2="520.4" y2="708.9" stroke="#a6a6a6" stroke-width="0.9" stroke-opacity="1.0"/>
<line x1="472.7" y1="692.6" x2="481.6" y2="723.0" stroke="#a6a6a6" stroke-width="0.9" stroke-opacity="1.0"/>
<line x1="481.6" y1="723.0" x2="520.4" y2="708.9" stroke="#a6a6a6" stroke-width="0.9" stroke-opacity="1.0"/>
<line x1="426.2" y1="672.4" x2="472.7" y2="692.6" stroke="#a0a0a0" stroke-width="1.3" stroke-opacity="1.0"/>
<line x1="426.2" y1="672.4" x2="520.4" y2="708.9" stroke="#a0a0a0" stroke-width="1.3" stroke-opacity="1.0"/>
<line x1="458.6" y1="635.5" x2="472.7" y2="692.6" stroke="#a0a0a0" stroke-width="1.2" stroke-opacity="1.0"/>
<line x1="469.3" y1="604.9" x2="499.9" y2="602.8" stroke="#a4a4a4" stroke-width="1.25" stroke-opacity="1.0"/>
<line x1="469.3" y1="604.9" x2="528.3" y2="617.3" stroke="#a4a4a4" stroke-width="1.25" stroke-opacity="1.0"/>
<line x1="469.3" y1="604.9" x2="496.4" y2="634.8" stroke="#a4a4a4" stroke-width="1.25" stroke-opacity="1.0"/>
<line x1="469.3" y1="604.9" x2="554.2" y2="634.4" stroke="#a4a4a4" stroke-width="1.25" stroke-opacity="1.0"/>
<line x1="469.3" y1="604.9" x2="524.0" y2="653.7" stroke="#a4a4a4" stroke-width="1.25" stroke-opacity="1.0"/>
<line x1="469.3" y1="604.9" x2="556.4" y2="662.3" stroke="#a4a4a4" stroke-width="1.25" stroke-opacity="1.0"/>
<line x1="499.9" y1="602.8" x2="528.3" y2="617.3" stroke="#a4a4a4" stroke-width="1.25" stroke-opacity="1.0"/>
<line x1="499.9" y1="602.8" x2="496.4" y2="634.8" stroke="#a4a4a4" stroke-width="1.25" stroke-opacity="1.0"/>
<line x1="499.9" y1="602.8" x2="554.2" y2="634.4" stroke="#a4a4a4" stroke-width="1.25" stroke-opacity="1.0"/>
<line x1="499.9" y1="602.8" x2="524.0" y2="653.7" stroke="#a4a4a4" stroke-width="1.25" stroke-opacity="1.0"/>
<line x1="499.9" y1="602.8" x2="556.4" y2="662.3" stroke="#a4a4a4" stroke-width="1.25" stroke-opacity="1.0"/>
<line x1="528.3" y1="617.3" x2="496.4" y2="634.8" stroke="#a4a4a4" stroke-width="1.25" stroke-opacity="1.0"/>
<line x1="528.3" y1="617.3" x2="554.2" y2="634.4" stroke="#a4a4a4" stroke-width="1.25" stroke-opacity="1.0"/>
<line x1="528.3" y1="617.3" x2="524.0" y2="653.7" stroke="#a4a4a4" stroke-width="1.25" stroke-opacity="1.0"/>
<line x1="528.3" y1="617.3" x2="556.4" y2="662.3" stroke="#a4a4a4" stroke-width="1.25" stroke-opacity="1.0"/>
<line x1="496.4" y1="634.8" x2="554.2" y2="634.4" stroke="#a4a4a4" stroke-width="1.25" stroke-opacity="1.0"/>
<line x1="496.4" y1="634.8" x2="524.0" y2="653.7" stroke="#a4a4a4" stroke-width="1.25" stroke-opacity="1.0"/>
<line x1="496.4" y1="634.8" x2="556.4" y2="662.3" stroke="#a4a4a4" stroke-width="1.25" stroke-opacity="1.0"/>
<line x1="554.2" y1="634.4" x2="524.0" y2="653.7" stroke="#a4a4a4" stroke-width="1.25" stroke-opacity="1.0"/>
<line x1="554.2" y1="634.4" x2="556.4" y2="662.3" stroke="#a4a4a4" stroke-width="1.25" stroke-opacity="1.0"/>
<line x1="524.0" y1="653.7" x2="556.4" y2="662.3" stroke="#a4a4a4" stroke-width="1.25" stroke-opacity="1.0"/>
<line x1="469.3" y1="604.9" x2="556.4" y2="662.3" stroke="#a0a0a0" stroke-width="1.7" stroke-opacity="1.0"/>
<line x1="499.9" y1="602.8" x2="556.4" y2="662.3" stroke="#a0a0a0" stroke-width="1.7" stroke-opacity="1.0"/>
<line x1="528.3" y1="617.3" x2="556.4" y2="662.3" stroke="#a0a0a0" stroke-width="1.7" stroke-opacity="1.0"/>
<line x1="469.3" y1="604.9" x2="528.3" y2="617.3" stroke="#a0a0a0" stroke-width="1.6" stroke-opacity="1.0"/>
<defs>
<clipPath id="n_ECRP"><circle cx="469.3" cy="604.9" r="5.4"/></clipPath>
<clipPath id="n_VES"><circle cx="499.9" cy="602.8" r="5.4"/></clipPath>
<clipPath id="n_ECS"><circle cx="528.3" cy="617.3" r="5.4"/></clipPath>
<clipPath id="n_ECR"><circle cx="496.4" cy="634.8" r="5.4"/></clipPath>
<clipPath id="n_ECO"><circle cx="554.2" cy="634.4" r="5.4"/></clipPath>
<clipPath id="n_ECX"><circle cx="524.0" cy="653.7" r="5.4"/></clipPath>
<clipPath id="n_ECV"><circle cx="556.4" cy="662.3" r="5.4"/></clipPath>
<clipPath id="n_CJ"><circle cx="458.6" cy="635.5" r="3.4"/></clipPath>
<clipPath id="n_VL"><circle cx="504.4" cy="552.0" r="3.4"/></clipPath>
<clipPath id="n_SGL"><circle cx="543.1" cy="542.3" r="3.4"/></clipPath>
<clipPath id="n_SG"><circle cx="556.8" cy="567.4" r="3.4"/></clipPath>
<clipPath id="n_CVL"><circle cx="591.4" cy="564.8" r="3.5"/></clipPath>
<clipPath id="n_FGL"><circle cx="609.8" cy="600.4" r="3.3"/></clipPath>
<clipPath id="n_FG"><circle cx="612.7" cy="629.5" r="3.3"/></clipPath>
<clipPath id="n_AJ"><circle cx="426.2" cy="672.4" r="3.6"/></clipPath>
<clipPath id="n_ADJ"><circle cx="472.7" cy="692.6" r="3.3"/></clipPath>
<clipPath id="n_CSJ"><circle cx="439.0" cy="703.5" r="3.4"/></clipPath>
<clipPath id="n_FA"><circle cx="520.4" cy="708.9" r="3.4"/></clipPath>
<clipPath id="n_CSAJ"><circle cx="481.6" cy="723.0" r="3.4"/></clipPath>
<clipPath id="n_BM"><circle cx="556.8" cy="739.6" r="2.6"/></clipPath>
</defs>
<circle cx="469.3" cy="604.9" r="5.4" fill="#6CC024"/>
<rect x="463.90000000000003" y="602.20" width="10.8" height="8.60" fill="#2AEA14" clip-path="url(#n_ECRP)"/>
<circle cx="499.9" cy="602.8" r="5.4" fill="#6CC024"/>
<rect x="494.5" y="602.80" width="10.8" height="5.90" fill="#2AEA14" clip-path="url(#n_VES)"/>
<circle cx="528.3" cy="617.3" r="5.4" fill="#2AEA14"/>
<rect x="522.9" y="619.19" width="10.8" height="4.01" fill="#6CC024" clip-path="url(#n_ECS)"/>
<circle cx="496.4" cy="634.8" r="5.4" fill="#6CC024"/>
<rect x="491.0" y="638.58" width="10.8" height="2.12" fill="#2AEA14" clip-path="url(#n_ECR)"/>
<circle cx="554.2" cy="634.4" r="5.4" fill="#6CC024"/>
<rect x="548.8000000000001" y="639.26" width="10.8" height="1.04" fill="#6CC024" clip-path="url(#n_ECO)"/>
<circle cx="524.0" cy="653.7" r="5.4" fill="#2AEA14"/>
<rect x="518.6" y="658.56" width="10.8" height="1.04" fill="#2AEA14" clip-path="url(#n_ECX)"/>
<circle cx="556.4" cy="662.3" r="5.4" fill="#2AEA14"/>
<rect x="551.0" y="663.92" width="10.8" height="4.28" fill="#6CC024" clip-path="url(#n_ECV)"/>
<circle cx="458.6" cy="635.5" r="3.4" fill="#D6F0D6"/>
<circle cx="458.6" cy="635.5" r="1.70" fill="#8ED08E"/>
<circle cx="504.4" cy="552.0" r="3.4" fill="#B6EAB6"/>
<circle cx="504.4" cy="552.0" r="1.70" fill="#7FD27F"/>
<circle cx="543.1" cy="542.3" r="3.4" fill="#B0E8B0"/>
<circle cx="543.1" cy="542.3" r="1.70" fill="#78D078"/>
<circle cx="556.8" cy="567.4" r="3.4" fill="#B6EAB6"/>
<circle cx="556.8" cy="567.4" r="1.70" fill="#86D486"/>
<circle cx="591.4" cy="564.8" r="3.5" fill="#B6EAB6"/>
<circle cx="591.4" cy="564.8" r="1.75" fill="#8AD68A"/>
<circle cx="609.8" cy="600.4" r="3.3" fill="#B8EBB8"/>
<circle cx="609.8" cy="600.4" r="1.65" fill="#90D890"/>
<circle cx="612.7" cy="629.5" r="3.3" fill="#CCF0CC"/>
<circle cx="612.7" cy="629.5" r="1.65" fill="#A6E0A6"/>
<circle cx="426.2" cy="672.4" r="3.6" fill="#9EDC9E"/>
<circle cx="426.2" cy="672.4" r="1.80" fill="#5FBF5F"/>
<circle cx="472.7" cy="692.6" r="3.3" fill="#96DA96"/>
<circle cx="472.7" cy="692.6" r="1.65" fill="#5CBE5C"/>
<circle cx="439.0" cy="703.5" r="3.4" fill="#AEE6AE"/>
<circle cx="439.0" cy="703.5" r="1.70" fill="#86D486"/>
<circle cx="520.4" cy="708.9" r="3.4" fill="#C0EEC0"/>
<circle cx="520.4" cy="708.9" r="1.70" fill="#A0E0A0"/>
<circle cx="481.6" cy="723.0" r="3.4" fill="#B4E8B4"/>
<circle cx="481.6" cy="723.0" r="1.70" fill="#92D892"/>
<circle cx="556.8" cy="739.6" r="2.6" fill="#E0F4E0"/>
<circle cx="556.8" cy="739.6" r="1.30" fill="#CCEDCC"/>
<text x="545.20" y="525.70" font-size="11" text-anchor="middle" font-weight="normal" fill="#222" >secretory</text>
<text x="545.20" y="536.10" font-size="11" text-anchor="middle" font-weight="normal" fill="#222" >granule lumen</text>
<text x="482.20" y="543.70" font-size="11" text-anchor="middle" font-weight="normal" fill="#222" >vesicle</text>
<text x="482.20" y="554.40" font-size="11" text-anchor="middle" font-weight="normal" fill="#222" >lumen</text>
<text x="528.20" y="568.60" font-size="11" text-anchor="middle" font-weight="normal" fill="#222" >secretory</text>
<text x="528.20" y="579.00" font-size="11" text-anchor="middle" font-weight="normal" fill="#222" >granule</text>
<text x="631.30" y="553.00" font-size="11" text-anchor="middle" font-weight="normal" fill="#222" >cytoplasmic</text>
<text x="631.30" y="563.60" font-size="11" text-anchor="middle" font-weight="normal" fill="#222" >vesicle lumen</text>
<text x="436.00" y="583.80" font-size="11" text-anchor="middle" font-weight="normal" fill="#222" >extracellular</text>
<text x="436.00" y="594.80" font-size="11" text-anchor="middle" font-weight="normal" fill="#222" >region part</text>
<text x="495.90" y="594.80" font-size="11" text-anchor="middle" font-weight="normal" fill="#222" >vesicle</text>
<text x="551.90" y="605.60" font-size="11" text-anchor="middle" font-weight="normal" fill="#222" >extracellular</text>
<text x="551.90" y="616.40" font-size="11" text-anchor="middle" font-weight="normal" fill="#222" >space</text>
<text x="651.00" y="590.40" font-size="11" text-anchor="middle" font-weight="normal" fill="#222" >Ficolin-1-rich</text>
<text x="651.00" y="601.40" font-size="11" text-anchor="middle" font-weight="normal" fill="#222" >granule lumen</text>
<text x="652.00" y="628.30" font-size="11" text-anchor="middle" font-weight="normal" fill="#222" >Ficolin-1-rich</text>
<text x="652.00" y="638.80" font-size="11" text-anchor="middle" font-weight="normal" fill="#222" >granule</text>
<text x="451.70" y="636.80" font-size="11" text-anchor="end" font-weight="normal" fill="#222" >cell junction</text>
<text x="485.00" y="649.70" font-size="11" text-anchor="middle" font-weight="normal" fill="#222" >extracellular</text>
<text x="485.00" y="660.10" font-size="11" text-anchor="middle" font-weight="normal" fill="#222" >region</text>
<text x="589.90" y="643.70" font-size="11" text-anchor="middle" font-weight="normal" fill="#222" >extracellular</text>
<text x="589.90" y="654.20" font-size="11" text-anchor="middle" font-weight="normal" fill="#222" >organelle</text>
<text x="519.50" y="672.70" font-size="11" text-anchor="middle" font-weight="normal" fill="#222" >extracellular</text>
<text x="519.50" y="683.20" font-size="11" text-anchor="middle" font-weight="normal" fill="#222" >exosome</text>
<text x="591.10" y="677.10" font-size="11" text-anchor="middle" font-weight="normal" fill="#222" >extracellular</text>
<text x="591.10" y="687.30" font-size="11" text-anchor="middle" font-weight="normal" fill="#222" >vesicle</text>
<text x="394.50" y="671.00" font-size="11" text-anchor="middle" font-weight="normal" fill="#222" >anchoring</text>
<text x="394.50" y="681.50" font-size="11" text-anchor="middle" font-weight="normal" fill="#222" >junction</text>
<text x="478.10" y="705.00" font-size="11" text-anchor="middle" font-weight="normal" fill="#222" >adherens</text>
<text x="478.10" y="715.60" font-size="11" text-anchor="middle" font-weight="normal" fill="#222" >junction</text>
<text x="398.80" y="711.10" font-size="11" text-anchor="middle" font-weight="normal" fill="#222" >cell-substrate</text>
<text x="398.80" y="721.90" font-size="11" text-anchor="middle" font-weight="normal" fill="#222" >junction</text>
<text x="541.60" y="711.40" font-size="11" text-anchor="middle" font-weight="normal" fill="#222" >focal</text>
<text x="541.60" y="722.20" font-size="11" text-anchor="middle" font-weight="normal" fill="#222" >adhesion</text>
<text x="479.70" y="740.10" font-size="11" text-anchor="middle" font-weight="normal" fill="#222" >cell-substrate</text>
<text x="479.70" y="750.60" font-size="11" text-anchor="middle" font-weight="normal" fill="#222" >adherens junction</text>
<text x="581.80" y="741.80" font-size="11" text-anchor="middle" font-weight="normal" fill="#222" >blood</text>
<text x="581.80" y="752.30" font-size="11" text-anchor="middle" font-weight="normal" fill="#222" >microparticle</text>
<text transform="translate(1,791)" font-size="28" font-weight="bold">e</text>
<text transform="translate(30.5,912.5) rotate(-90)" font-size="13.8" font-weight="bold" text-anchor="middle">Pearson correlation of 2 biological</text>
<text transform="translate(47.7,913.2) rotate(-90)" font-size="13.8" font-weight="bold" text-anchor="middle">replicates (HEK293 nPMVs)</text>
<text transform="translate(71.2,911) rotate(-90)" font-size="13" text-anchor="middle" fill="#111"><tspan font-weight="bold">Replicate 2</tspan> LFQ signal intensity (log<tspan font-size="9" dy="2.5">2</tspan><tspan dy="-2.5">)</tspan></text>
<text x="190.80" y="1043.00" font-size="13" text-anchor="middle" font-weight="normal" fill="#111" ><tspan font-weight="bold">Replicate 1</tspan> LFQ signal intensity (log<tspan font-size="9" dy="2.5">2</tspan><tspan dy="-2.5">)</tspan></text>
<path d="M95,811.80 H96.2 V1009.3 H283.07 V1008.3" fill="none" stroke="#333" stroke-width="1"/>
<line x1="92.8" y1="1009.20" x2="96.2" y2="1009.20" stroke="#333" stroke-width="1"/>
<line x1="96.00" y1="1009.3" x2="96.00" y2="1012.6" stroke="#333" stroke-width="1"/>
<text x="91.20" y="1013.10" font-size="10.8" text-anchor="end" font-weight="normal" fill="#111" >20</text>
<text x="96.00" y="1023.80" font-size="10.8" text-anchor="middle" font-weight="normal" fill="#111" >20</text>
<line x1="92.8" y1="952.80" x2="96.2" y2="952.80" stroke="#333" stroke-width="1"/>
<line x1="149.45" y1="1009.3" x2="149.45" y2="1012.6" stroke="#333" stroke-width="1"/>
<text x="91.20" y="956.70" font-size="10.8" text-anchor="end" font-weight="normal" fill="#111" >25</text>
<text x="149.45" y="1023.80" font-size="10.8" text-anchor="middle" font-weight="normal" fill="#111" >25</text>
<line x1="92.8" y1="896.40" x2="96.2" y2="896.40" stroke="#333" stroke-width="1"/>
<line x1="202.90" y1="1009.3" x2="202.90" y2="1012.6" stroke="#333" stroke-width="1"/>
<text x="91.20" y="900.30" font-size="10.8" text-anchor="end" font-weight="normal" fill="#111" >30</text>
<text x="202.90" y="1023.80" font-size="10.8" text-anchor="middle" font-weight="normal" fill="#111" >30</text>
<line x1="92.8" y1="840.00" x2="96.2" y2="840.00" stroke="#333" stroke-width="1"/>
<line x1="256.35" y1="1009.3" x2="256.35" y2="1012.6" stroke="#333" stroke-width="1"/>
<text x="91.20" y="843.90" font-size="10.8" text-anchor="end" font-weight="normal" fill="#111" >35</text>
<text x="256.35" y="1023.80" font-size="10.8" text-anchor="middle" font-weight="normal" fill="#111" >35</text>
<line x1="94.6" y1="981.00" x2="96.2" y2="981.00" stroke="#333" stroke-width="1"/>
<line x1="94.6" y1="924.60" x2="96.2" y2="924.60" stroke="#333" stroke-width="1"/>
<line x1="94.6" y1="868.20" x2="96.2" y2="868.20" stroke="#333" stroke-width="1"/>
<line x1="122.72" y1="1009.3" x2="122.72" y2="1011" stroke="#333" stroke-width="1"/>
<line x1="176.18" y1="1009.3" x2="176.18" y2="1011" stroke="#333" stroke-width="1"/>
<line x1="229.62" y1="1009.3" x2="229.62" y2="1011" stroke="#333" stroke-width="1"/>
<line x1="283.07" y1="1009.3" x2="283.07" y2="1011" stroke="#333" stroke-width="1"/>
<text x="117.60" y="822.80" font-size="11.6" text-anchor="start" font-weight="normal" fill="#111" >Pearson&#39;s <tspan font-style="italic">r</tspan> = 0.93</text>
<rect x="242.9" y="846.7" width="2" height="2" fill="#9000FF"/>
<rect x="258.6" y="836.7" width="2" height="2" fill="#9000FF"/>
<rect x="179.6" y="932.5" width="2" height="2" fill="#9000FF"/>
<rect x="181.7" y="938.8" width="2" height="2" fill="#9000FF"/>
<rect x="158.3" y="983.0" width="2" height="2" fill="#9000FF"/>
<rect x="164.5" y="905.1" width="2" height="2" fill="#9000FF"/>
<rect x="238.4" y="850.8" width="2" height="2" fill="#9000FF"/>
<rect x="224.3" y="861.1" width="2" height="2" fill="#9000FF"/>
<rect x="163.2" y="910.8" width="2" height="2" fill="#9000FF"/>
<rect x="141.6" y="922.3" width="2" height="2" fill="#9000FF"/>
<rect x="145.2" y="923.8" width="2" height="2" fill="#9000FF"/>
<rect x="236.9" y="857.2" width="2" height="2" fill="#9000FF"/>
<rect x="148.4" y="908.9" width="2" height="2" fill="#9000FF"/>
<rect x="250.7" y="849.9" width="2" height="2" fill="#9000FF"/>
<rect x="210.8" y="860.0" width="2" height="2" fill="#9000FF"/>
<rect x="194.4" y="966.5" width="2" height="2" fill="#9000FF"/>
<rect x="178.4" y="973.2" width="2" height="2" fill="#9000FF"/>
<rect x="251.8" y="838.5" width="2" height="2" fill="#9000FF"/>
<rect x="175.2" y="963.9" width="2" height="2" fill="#9000FF"/>
<rect x="140.2" y="928.7" width="2" height="2" fill="#9000FF"/>
<rect x="196.0" y="880.8" width="2" height="2" fill="#9000FF"/>
<rect x="251.2" y="854.2" width="2" height="2" fill="#9000FF"/>
<rect x="228.3" y="868.9" width="2" height="2" fill="#9000FF"/>
<rect x="182.7" y="972.1" width="2" height="2" fill="#9000FF"/>
<rect x="137.0" y="921.7" width="2" height="2" fill="#9000FF"/>
<rect x="172.3" y="976.5" width="2" height="2" fill="#9000FF"/>
<rect x="207.2" y="915.7" width="2" height="2" fill="#9000FF"/>
<rect x="215.3" y="859.9" width="2" height="2" fill="#9000FF"/>
<rect x="157.1" y="914.7" width="2" height="2" fill="#9000FF"/>
<rect x="176.4" y="902.8" width="2" height="2" fill="#9000FF"/>
<rect x="200.9" y="877.1" width="2" height="2" fill="#9000FF"/>
<rect x="169.8" y="971.4" width="2" height="2" fill="#9000FF"/>
<rect x="145.2" y="914.6" width="2" height="2" fill="#9000FF"/>
<rect x="200.9" y="872.1" width="2" height="2" fill="#9000FF"/>
<rect x="133.3" y="928.9" width="2" height="2" fill="#9000FF"/>
<rect x="211.2" y="877.2" width="2" height="2" fill="#9000FF"/>
<rect x="170.4" y="947.2" width="2" height="2" fill="#9000FF"/>
<rect x="130.5" y="931.5" width="2" height="2" fill="#9000FF"/>
<rect x="209.1" y="881.1" width="2" height="2" fill="#9000FF"/>
<rect x="126.1" y="943.0" width="2" height="2" fill="#9000FF"/>
<rect x="210.4" y="876.8" width="2" height="2" fill="#9000FF"/>
<rect x="137.1" y="985.5" width="2" height="2" fill="#9000FF"/>
<rect x="217.6" y="882.4" width="2" height="2" fill="#9000FF"/>
<rect x="172.2" y="961.3" width="2" height="2" fill="#9000FF"/>
<rect x="218.1" y="865.0" width="2" height="2" fill="#9000FF"/>
<rect x="166.8" y="972.1" width="2" height="2" fill="#9000FF"/>
<rect x="219.8" y="863.4" width="2" height="2" fill="#9000FF"/>
<rect x="119.4" y="947.5" width="2" height="2" fill="#9000FF"/>
<rect x="173.3" y="945.9" width="2" height="2" fill="#9000FF"/>
<rect x="147.8" y="915.7" width="2" height="2" fill="#9000FF"/>
<rect x="125.2" y="939.6" width="2" height="2" fill="#9000FF"/>
<rect x="140.1" y="983.1" width="2" height="2" fill="#9000FF"/>
<rect x="229.5" y="865.2" width="2" height="2" fill="#9000FF"/>
<rect x="169.1" y="943.2" width="2" height="2" fill="#9000FF"/>
<rect x="167.2" y="941.7" width="2" height="2" fill="#9000FF"/>
<rect x="178.7" y="896.8" width="2" height="2" fill="#9000FF"/>
<rect x="121.7" y="938.7" width="2" height="2" fill="#9000FF"/>
<rect x="118.9" y="958.8" width="2" height="2" fill="#9000FF"/>
<rect x="203.4" y="907.2" width="2" height="2" fill="#9000FF"/>
<rect x="232.5" y="846.4" width="2" height="2" fill="#9000FF"/>
<rect x="218.7" y="884.0" width="2" height="2" fill="#9000FF"/>
<rect x="202.9" y="870.0" width="2" height="2" fill="#9000FF"/>
<rect x="226.7" y="874.3" width="2" height="2" fill="#9000FF"/>
<rect x="119.3" y="972.0" width="2" height="2" fill="#9000FF"/>
<rect x="118.7" y="941.2" width="2" height="2" fill="#9000FF"/>
<rect x="156.7" y="923.3" width="2" height="2" fill="#9000FF"/>
<rect x="127.6" y="936.8" width="2" height="2" fill="#9000FF"/>
<rect x="198.6" y="913.5" width="2" height="2" fill="#9000FF"/>
<rect x="127.3" y="932.8" width="2" height="2" fill="#9000FF"/>
<rect x="168.2" y="956.3" width="2" height="2" fill="#9000FF"/>
<rect x="233.1" y="849.0" width="2" height="2" fill="#9000FF"/>
<rect x="158.7" y="972.3" width="2" height="2" fill="#9000FF"/>
<rect x="230.7" y="864.6" width="2" height="2" fill="#9000FF"/>
<rect x="202.7" y="879.3" width="2" height="2" fill="#9000FF"/>
<rect x="134.1" y="930.4" width="2" height="2" fill="#9000FF"/>
<rect x="176.3" y="935.4" width="2" height="2" fill="#9000FF"/>
<rect x="174.2" y="938.1" width="2" height="2" fill="#9000FF"/>
<rect x="120.7" y="982.1" width="2" height="2" fill="#9000FF"/>
<rect x="163.8" y="958.4" width="2" height="2" fill="#9000FF"/>
<rect x="131.8" y="935.9" width="2" height="2" fill="#9000FF"/>
<rect x="135.3" y="939.3" width="2" height="2" fill="#9000FF"/>
<rect x="120.1" y="979.8" width="2" height="2" fill="#9000FF"/>
<rect x="121.7" y="941.5" width="2" height="2" fill="#9000FF"/>
<rect x="223.3" y="872.1" width="2" height="2" fill="#9000FF"/>
<rect x="150.2" y="927.0" width="2" height="2" fill="#9000FF"/>
<rect x="154.6" y="976.7" width="2" height="2" fill="#9000FF"/>
<rect x="206.2" y="877.7" width="2" height="2" fill="#9000FF"/>
<rect x="157.2" y="922.5" width="2" height="2" fill="#9000FF"/>
<rect x="142.5" y="931.5" width="2" height="2" fill="#9000FF"/>
<rect x="202.6" y="895.0" width="2" height="2" fill="#9000FF"/>
<rect x="183.0" y="920.8" width="2" height="2" fill="#9000FF"/>
<rect x="205.6" y="892.2" width="2" height="2" fill="#9000FF"/>
<rect x="128.4" y="985.8" width="2" height="2" fill="#9000FF"/>
<rect x="162.6" y="963.0" width="2" height="2" fill="#9000FF"/>
<rect x="133.8" y="986.4" width="2" height="2" fill="#9000FF"/>
<rect x="180.5" y="897.9" width="2" height="2" fill="#9000FF"/>
<rect x="145.9" y="982.1" width="2" height="2" fill="#9000FF"/>
<rect x="122.4" y="982.0" width="2" height="2" fill="#9000FF"/>
<rect x="130.6" y="935.5" width="2" height="2" fill="#9000FF"/>
<rect x="143.7" y="937.7" width="2" height="2" fill="#9000FF"/>
<rect x="152.3" y="926.3" width="2" height="2" fill="#9000FF"/>
<rect x="167.4" y="964.0" width="2" height="2" fill="#9000FF"/>
<rect x="191.5" y="914.6" width="2" height="2" fill="#9000FF"/>
<rect x="154.8" y="971.3" width="2" height="2" fill="#9000FF"/>
<rect x="123.1" y="971.3" width="2" height="2" fill="#9000FF"/>
<rect x="155.5" y="975.5" width="2" height="2" fill="#9000FF"/>
<rect x="126.8" y="941.1" width="2" height="2" fill="#9000FF"/>
<rect x="186.8" y="922.6" width="2" height="2" fill="#9000FF"/>
<rect x="132.2" y="938.8" width="2" height="2" fill="#9000FF"/>
<rect x="182.8" y="925.4" width="2" height="2" fill="#9000FF"/>
<rect x="149.9" y="977.3" width="2" height="2" fill="#9000FF"/>
<rect x="224.3" y="864.9" width="2" height="2" fill="#9000FF"/>
<rect x="223.0" y="865.7" width="2" height="2" fill="#9000FF"/>
<rect x="205.1" y="876.0" width="2" height="2" fill="#9000FF"/>
<rect x="206.4" y="875.5" width="2" height="2" fill="#9000FF"/>
<rect x="168.8" y="916.3" width="2" height="2" fill="#9000FF"/>
<rect x="132.1" y="977.9" width="2" height="2" fill="#9000FF"/>
<rect x="164.9" y="945.8" width="2" height="2" fill="#9000FF"/>
<rect x="195.9" y="911.7" width="2" height="2" fill="#9000FF"/>
<rect x="170.6" y="937.6" width="2" height="2" fill="#9000FF"/>
<rect x="164.1" y="953.3" width="2" height="2" fill="#9000FF"/>
<rect x="193.9" y="886.0" width="2" height="2" fill="#9000FF"/>
<rect x="199.4" y="908.4" width="2" height="2" fill="#9000FF"/>
<rect x="199.8" y="883.9" width="2" height="2" fill="#9000FF"/>
<rect x="159.7" y="970.7" width="2" height="2" fill="#9000FF"/>
<rect x="181.5" y="900.1" width="2" height="2" fill="#9000FF"/>
<rect x="145.0" y="980.6" width="2" height="2" fill="#9000FF"/>
<rect x="133.7" y="951.5" width="2" height="2" fill="#9000FF"/>
<rect x="165.4" y="945.5" width="2" height="2" fill="#9000FF"/>
<rect x="124.6" y="948.4" width="2" height="2" fill="#9000FF"/>
<rect x="223.0" y="865.8" width="2" height="2" fill="#9000FF"/>
<rect x="164.5" y="954.6" width="2" height="2" fill="#9000FF"/>
<rect x="223.6" y="869.2" width="2" height="2" fill="#9000FF"/>
<rect x="181.6" y="921.4" width="2" height="2" fill="#9000FF"/>
<rect x="219.2" y="869.9" width="2" height="2" fill="#9000FF"/>
<rect x="129.4" y="979.0" width="2" height="2" fill="#9000FF"/>
<rect x="217.3" y="875.3" width="2" height="2" fill="#9000FF"/>
<rect x="144.1" y="980.5" width="2" height="2" fill="#9000FF"/>
<rect x="135.5" y="977.8" width="2" height="2" fill="#9000FF"/>
<rect x="133.8" y="982.0" width="2" height="2" fill="#9000FF"/>
<rect x="207.6" y="895.1" width="2" height="2" fill="#9000FF"/>
<rect x="186.0" y="891.9" width="2" height="2" fill="#9000FF"/>
<rect x="135.6" y="947.5" width="2" height="2" fill="#9000FF"/>
<rect x="200.5" y="906.0" width="2" height="2" fill="#9000FF"/>
<rect x="189.8" y="921.7" width="2" height="2" fill="#9000FF"/>
<rect x="198.5" y="883.3" width="2" height="2" fill="#9000FF"/>
<rect x="169.1" y="960.8" width="2" height="2" fill="#9000FF"/>
<rect x="119.5" y="967.5" width="2" height="2" fill="#9000FF"/>
<rect x="119.3" y="964.5" width="2" height="2" fill="#9000FF"/>
<rect x="159.9" y="920.1" width="2" height="2" fill="#9000FF"/>
<rect x="152.4" y="977.0" width="2" height="2" fill="#9000FF"/>
<rect x="144.2" y="933.0" width="2" height="2" fill="#9000FF"/>
<rect x="139.4" y="977.3" width="2" height="2" fill="#9000FF"/>
<rect x="224.3" y="871.9" width="2" height="2" fill="#9000FF"/>
<rect x="134.6" y="982.6" width="2" height="2" fill="#9000FF"/>
<rect x="207.2" y="895.8" width="2" height="2" fill="#9000FF"/>
<rect x="123.7" y="957.7" width="2" height="2" fill="#9000FF"/>
<rect x="139.8" y="939.4" width="2" height="2" fill="#9000FF"/>
<rect x="124.4" y="947.7" width="2" height="2" fill="#9000FF"/>
<rect x="184.2" y="893.6" width="2" height="2" fill="#9000FF"/>
<rect x="161.5" y="959.1" width="2" height="2" fill="#9000FF"/>
<rect x="121.7" y="967.9" width="2" height="2" fill="#9000FF"/>
<rect x="211.4" y="888.3" width="2" height="2" fill="#9000FF"/>
<rect x="167.5" y="961.6" width="2" height="2" fill="#9000FF"/>
<rect x="163.2" y="939.8" width="2" height="2" fill="#9000FF"/>
<rect x="165.4" y="955.3" width="2" height="2" fill="#9000FF"/>
<rect x="164.1" y="944.6" width="2" height="2" fill="#9000FF"/>
<rect x="152.4" y="972.7" width="2" height="2" fill="#9000FF"/>
<rect x="188.1" y="918.9" width="2" height="2" fill="#9000FF"/>
<rect x="139.9" y="935.2" width="2" height="2" fill="#9000FF"/>
<rect x="185.8" y="899.0" width="2" height="2" fill="#9000FF"/>
<rect x="207.8" y="884.3" width="2" height="2" fill="#9000FF"/>
<rect x="120.2" y="967.2" width="2" height="2" fill="#9000FF"/>
<rect x="153.4" y="972.7" width="2" height="2" fill="#9000FF"/>
<rect x="157.1" y="962.9" width="2" height="2" fill="#9000FF"/>
<rect x="129.6" y="983.6" width="2" height="2" fill="#9000FF"/>
<rect x="203.4" y="889.4" width="2" height="2" fill="#9000FF"/>
<rect x="129.8" y="983.5" width="2" height="2" fill="#9000FF"/>
<rect x="140.8" y="978.8" width="2" height="2" fill="#9000FF"/>
<rect x="168.0" y="936.9" width="2" height="2" fill="#9000FF"/>
<rect x="200.7" y="902.5" width="2" height="2" fill="#9000FF"/>
<rect x="133.4" y="980.0" width="2" height="2" fill="#9000FF"/>
<rect x="214.9" y="873.7" width="2" height="2" fill="#9000FF"/>
<rect x="125.0" y="979.3" width="2" height="2" fill="#9000FF"/>
<rect x="142.1" y="980.6" width="2" height="2" fill="#9000FF"/>
<rect x="185.3" y="892.5" width="2" height="2" fill="#9000FF"/>
<rect x="121.7" y="976.3" width="2" height="2" fill="#9000FF"/>
<rect x="164.6" y="961.8" width="2" height="2" fill="#9000FF"/>
<rect x="195.6" y="909.1" width="2" height="2" fill="#9000FF"/>
<rect x="202.8" y="886.5" width="2" height="2" fill="#9000FF"/>
<rect x="166.8" y="962.1" width="2" height="2" fill="#9000FF"/>
<rect x="160.0" y="921.7" width="2" height="2" fill="#9000FF"/>
<rect x="163.9" y="944.2" width="2" height="2" fill="#9000FF"/>
<rect x="181.8" y="922.5" width="2" height="2" fill="#9000FF"/>
<rect x="185.9" y="898.8" width="2" height="2" fill="#9000FF"/>
<rect x="150.9" y="974.7" width="2" height="2" fill="#9000FF"/>
<rect x="162.6" y="964.8" width="2" height="2" fill="#9000FF"/>
<rect x="195.5" y="906.9" width="2" height="2" fill="#9000FF"/>
<rect x="208.4" y="894.0" width="2" height="2" fill="#9000FF"/>
<rect x="187.9" y="921.5" width="2" height="2" fill="#9000FF"/>
<rect x="182.9" y="902.0" width="2" height="2" fill="#9000FF"/>
<rect x="181.1" y="902.2" width="2" height="2" fill="#9000FF"/>
<rect x="206.7" y="894.2" width="2" height="2" fill="#9000FF"/>
<rect x="121.5" y="970.6" width="2" height="2" fill="#9000FF"/>
<rect x="143.1" y="937.1" width="2" height="2" fill="#9000FF"/>
<rect x="203.3" y="887.5" width="2" height="2" fill="#9000FF"/>
<rect x="119.0" y="953.1" width="2" height="2" fill="#9000FF"/>
<rect x="161.0" y="919.9" width="2" height="2" fill="#9000FF"/>
<rect x="164.9" y="916.2" width="2" height="2" fill="#9000FF"/>
<rect x="185.5" y="916.9" width="2" height="2" fill="#9000FF"/>
<rect x="128.3" y="981.3" width="2" height="2" fill="#9000FF"/>
<rect x="149.8" y="928.2" width="2" height="2" fill="#9000FF"/>
<rect x="127.7" y="978.4" width="2" height="2" fill="#9000FF"/>
<rect x="185.8" y="904.5" width="2" height="2" fill="#9000FF"/>
<rect x="163.6" y="954.7" width="2" height="2" fill="#9000FF"/>
<rect x="201.6" y="894.1" width="2" height="2" fill="#9000FF"/>
<rect x="210.7" y="888.1" width="2" height="2" fill="#9000FF"/>
<rect x="140.9" y="934.8" width="2" height="2" fill="#9000FF"/>
<rect x="160.6" y="927.0" width="2" height="2" fill="#9000FF"/>
<rect x="209.7" y="885.3" width="2" height="2" fill="#9000FF"/>
<rect x="186.9" y="918.2" width="2" height="2" fill="#9000FF"/>
<rect x="134.3" y="950.5" width="2" height="2" fill="#9000FF"/>
<rect x="157.3" y="951.4" width="2" height="2" fill="#9000FF"/>
<rect x="197.3" y="909.0" width="2" height="2" fill="#9000FF"/>
<rect x="194.8" y="887.4" width="2" height="2" fill="#9000FF"/>
<rect x="130.1" y="974.0" width="2" height="2" fill="#9000FF"/>
<rect x="179.0" y="920.4" width="2" height="2" fill="#9000FF"/>
<rect x="119.8" y="950.7" width="2" height="2" fill="#9000FF"/>
<rect x="201.8" y="889.5" width="2" height="2" fill="#9000FF"/>
<rect x="156.4" y="959.4" width="2" height="2" fill="#9000FF"/>
<rect x="157.0" y="963.1" width="2" height="2" fill="#9000FF"/>
<rect x="198.0" y="885.3" width="2" height="2" fill="#9000FF"/>
<rect x="140.6" y="935.2" width="2" height="2" fill="#9000FF"/>
<rect x="181.5" y="916.8" width="2" height="2" fill="#9000FF"/>
<rect x="152.2" y="968.7" width="2" height="2" fill="#9000FF"/>
<rect x="161.3" y="921.8" width="2" height="2" fill="#9000FF"/>
<rect x="124.0" y="978.0" width="2" height="2" fill="#9000FF"/>
<rect x="200.7" y="901.0" width="2" height="2" fill="#9000FF"/>
<rect x="218.7" y="871.1" width="2" height="2" fill="#9000FF"/>
<rect x="121.3" y="964.0" width="2" height="2" fill="#9000FF"/>
<rect x="132.7" y="985.0" width="2" height="2" fill="#9000FF"/>
<rect x="165.2" y="917.1" width="2" height="2" fill="#9000FF"/>
<rect x="191.4" y="892.6" width="2" height="2" fill="#9000FF"/>
<rect x="168.6" y="909.1" width="2" height="2" fill="#9000FF"/>
<rect x="160.2" y="967.2" width="2" height="2" fill="#9000FF"/>
<rect x="218.6" y="871.8" width="2" height="2" fill="#9000FF"/>
<rect x="122.8" y="974.9" width="2" height="2" fill="#9000FF"/>
<rect x="197.7" y="907.5" width="2" height="2" fill="#9000FF"/>
<rect x="148.6" y="937.6" width="2" height="2" fill="#9000FF"/>
<rect x="188.1" y="895.5" width="2" height="2" fill="#9000FF"/>
<rect x="161.3" y="967.6" width="2" height="2" fill="#9000FF"/>
<rect x="160.3" y="959.2" width="2" height="2" fill="#9000FF"/>
<rect x="212.0" y="887.5" width="2" height="2" fill="#9000FF"/>
<rect x="143.4" y="976.9" width="2" height="2" fill="#9000FF"/>
<rect x="160.9" y="955.1" width="2" height="2" fill="#9000FF"/>
<rect x="148.2" y="935.1" width="2" height="2" fill="#9000FF"/>
<rect x="167.7" y="935.0" width="2" height="2" fill="#9000FF"/>
<rect x="157.9" y="959.1" width="2" height="2" fill="#9000FF"/>
<rect x="185.9" y="902.8" width="2" height="2" fill="#9000FF"/>
<rect x="164.5" y="917.5" width="2" height="2" fill="#9000FF"/>
<rect x="216.2" y="871.4" width="2" height="2" fill="#9000FF"/>
<rect x="146.1" y="941.0" width="2" height="2" fill="#9000FF"/>
<rect x="128.1" y="956.1" width="2" height="2" fill="#9000FF"/>
<rect x="209.0" y="885.8" width="2" height="2" fill="#9000FF"/>
<rect x="173.0" y="917.7" width="2" height="2" fill="#9000FF"/>
<rect x="190.1" y="891.8" width="2" height="2" fill="#9000FF"/>
<rect x="127.0" y="974.6" width="2" height="2" fill="#9000FF"/>
<rect x="124.3" y="977.2" width="2" height="2" fill="#9000FF"/>
<rect x="216.9" y="873.4" width="2" height="2" fill="#9000FF"/>
<rect x="194.9" y="905.2" width="2" height="2" fill="#9000FF"/>
<rect x="156.0" y="928.0" width="2" height="2" fill="#9000FF"/>
<rect x="165.6" y="916.9" width="2" height="2" fill="#9000FF"/>
<rect x="160.5" y="954.4" width="2" height="2" fill="#9000FF"/>
<rect x="159.0" y="954.0" width="2" height="2" fill="#9000FF"/>
<rect x="136.4" y="974.7" width="2" height="2" fill="#9000FF"/>
<rect x="148.9" y="970.6" width="2" height="2" fill="#9000FF"/>
<rect x="187.7" y="895.0" width="2" height="2" fill="#9000FF"/>
<rect x="184.8" y="916.2" width="2" height="2" fill="#9000FF"/>
<rect x="157.9" y="955.4" width="2" height="2" fill="#9000FF"/>
<rect x="180.0" y="929.0" width="2" height="2" fill="#9000FF"/>
<rect x="141.6" y="932.2" width="2" height="2" fill="#9000FF"/>
<rect x="168.0" y="935.4" width="2" height="2" fill="#9000FF"/>
<rect x="201.9" y="887.3" width="2" height="2" fill="#9000FF"/>
<rect x="208.9" y="887.2" width="2" height="2" fill="#9000FF"/>
<rect x="187.2" y="899.0" width="2" height="2" fill="#9000FF"/>
<rect x="162.7" y="942.9" width="2" height="2" fill="#9000FF"/>
<rect x="126.2" y="956.7" width="2" height="2" fill="#9000FF"/>
<rect x="158.9" y="968.1" width="2" height="2" fill="#9000FF"/>
<rect x="138.2" y="974.9" width="2" height="2" fill="#9000FF"/>
<rect x="175.0" y="934.3" width="2" height="2" fill="#9000FF"/>
<rect x="160.1" y="965.7" width="2" height="2" fill="#9000FF"/>
<rect x="126.8" y="974.4" width="2" height="2" fill="#9000FF"/>
<rect x="190.5" y="911.5" width="2" height="2" fill="#9000FF"/>
<rect x="156.1" y="950.0" width="2" height="2" fill="#9000FF"/>
<rect x="218.1" y="873.8" width="2" height="2" fill="#9000FF"/>
<rect x="160.7" y="942.8" width="2" height="2" fill="#9000FF"/>
<rect x="124.4" y="949.8" width="2" height="2" fill="#9000FF"/>
<rect x="147.7" y="930.9" width="2" height="2" fill="#9000FF"/>
<rect x="124.3" y="970.4" width="2" height="2" fill="#9000FF"/>
<rect x="139.9" y="973.6" width="2" height="2" fill="#9000FF"/>
<rect x="122.6" y="954.4" width="2" height="2" fill="#9000FF"/>
<rect x="137.9" y="943.0" width="2" height="2" fill="#9000FF"/>
<rect x="132.2" y="970.6" width="2" height="2" fill="#9000FF"/>
<rect x="173.8" y="907.5" width="2" height="2" fill="#9000FF"/>
<rect x="132.4" y="972.1" width="2" height="2" fill="#9000FF"/>
<rect x="187.3" y="896.2" width="2" height="2" fill="#9000FF"/>
<rect x="163.4" y="937.6" width="2" height="2" fill="#9000FF"/>
<rect x="179.9" y="916.1" width="2" height="2" fill="#9000FF"/>
<rect x="130.7" y="946.2" width="2" height="2" fill="#9000FF"/>
<rect x="150.5" y="970.6" width="2" height="2" fill="#9000FF"/>
<rect x="153.6" y="956.5" width="2" height="2" fill="#9000FF"/>
<rect x="171.3" y="912.7" width="2" height="2" fill="#9000FF"/>
<rect x="127.1" y="975.1" width="2" height="2" fill="#9000FF"/>
<rect x="122.6" y="953.9" width="2" height="2" fill="#9000FF"/>
<rect x="130.2" y="945.3" width="2" height="2" fill="#9000FF"/>
<rect x="187.0" y="905.4" width="2" height="2" fill="#9000FF"/>
<rect x="171.5" y="919.0" width="2" height="2" fill="#9000FF"/>
<rect x="134.1" y="973.3" width="2" height="2" fill="#9000FF"/>
<rect x="121.6" y="960.6" width="2" height="2" fill="#9000FF"/>
<rect x="178.7" y="925.6" width="2" height="2" fill="#9000FF"/>
<rect x="180.1" y="904.3" width="2" height="2" fill="#9000FF"/>
<rect x="130.6" y="943.4" width="2" height="2" fill="#9000FF"/>
<rect x="124.4" y="977.6" width="2" height="2" fill="#9000FF"/>
<rect x="190.0" y="893.8" width="2" height="2" fill="#9000FF"/>
<rect x="198.6" y="894.8" width="2" height="2" fill="#9000FF"/>
<rect x="142.9" y="935.1" width="2" height="2" fill="#9000FF"/>
<rect x="166.8" y="931.7" width="2" height="2" fill="#9000FF"/>
<rect x="193.2" y="892.3" width="2" height="2" fill="#9000FF"/>
<rect x="158.5" y="946.5" width="2" height="2" fill="#9000FF"/>
<rect x="144.3" y="975.3" width="2" height="2" fill="#9000FF"/>
<rect x="193.2" y="892.3" width="2" height="2" fill="#9000FF"/>
<rect x="170.6" y="913.6" width="2" height="2" fill="#9000FF"/>
<rect x="122.0" y="961.9" width="2" height="2" fill="#9000FF"/>
<rect x="159.3" y="946.9" width="2" height="2" fill="#9000FF"/>
<rect x="174.4" y="906.8" width="2" height="2" fill="#9000FF"/>
<rect x="156.9" y="963.7" width="2" height="2" fill="#9000FF"/>
<rect x="142.4" y="976.5" width="2" height="2" fill="#9000FF"/>
<rect x="157.6" y="957.7" width="2" height="2" fill="#9000FF"/>
<rect x="136.4" y="942.2" width="2" height="2" fill="#9000FF"/>
<rect x="124.0" y="959.8" width="2" height="2" fill="#9000FF"/>
<rect x="169.0" y="910.3" width="2" height="2" fill="#9000FF"/>
<rect x="186.6" y="915.3" width="2" height="2" fill="#9000FF"/>
<rect x="181.9" y="904.2" width="2" height="2" fill="#9000FF"/>
<rect x="172.6" y="907.3" width="2" height="2" fill="#9000FF"/>
<rect x="177.5" y="921.1" width="2" height="2" fill="#9000FF"/>
<rect x="138.1" y="942.5" width="2" height="2" fill="#9000FF"/>
<rect x="144.9" y="941.3" width="2" height="2" fill="#9000FF"/>
<rect x="180.5" y="926.9" width="2" height="2" fill="#9000FF"/>
<rect x="187.5" y="897.9" width="2" height="2" fill="#9000FF"/>
<rect x="140.4" y="970.1" width="2" height="2" fill="#9000FF"/>
<rect x="188.6" y="909.0" width="2" height="2" fill="#9000FF"/>
<rect x="134.0" y="969.6" width="2" height="2" fill="#9000FF"/>
<rect x="199.2" y="886.7" width="2" height="2" fill="#9000FF"/>
<rect x="135.6" y="971.5" width="2" height="2" fill="#9000FF"/>
<rect x="175.2" y="908.6" width="2" height="2" fill="#9000FF"/>
<rect x="128.3" y="970.4" width="2" height="2" fill="#9000FF"/>
<rect x="126.1" y="975.0" width="2" height="2" fill="#9000FF"/>
<rect x="144.1" y="972.4" width="2" height="2" fill="#9000FF"/>
<rect x="139.4" y="968.8" width="2" height="2" fill="#9000FF"/>
<rect x="131.7" y="954.8" width="2" height="2" fill="#9000FF"/>
<rect x="154.2" y="956.2" width="2" height="2" fill="#9000FF"/>
<rect x="126.5" y="969.8" width="2" height="2" fill="#9000FF"/>
<rect x="131.4" y="948.1" width="2" height="2" fill="#9000FF"/>
<rect x="131.4" y="948.6" width="2" height="2" fill="#9000FF"/>
<rect x="187.0" y="908.7" width="2" height="2" fill="#9000FF"/>
<rect x="123.0" y="954.1" width="2" height="2" fill="#9000FF"/>
<rect x="178.1" y="923.3" width="2" height="2" fill="#9000FF"/>
<rect x="199.1" y="896.3" width="2" height="2" fill="#9000FF"/>
<rect x="144.9" y="971.0" width="2" height="2" fill="#9000FF"/>
<rect x="156.6" y="942.4" width="2" height="2" fill="#9000FF"/>
<rect x="144.1" y="973.2" width="2" height="2" fill="#9000FF"/>
<rect x="162.3" y="936.2" width="2" height="2" fill="#9000FF"/>
<rect x="132.6" y="968.5" width="2" height="2" fill="#9000FF"/>
<rect x="199.6" y="888.9" width="2" height="2" fill="#9000FF"/>
<rect x="155.4" y="958.0" width="2" height="2" fill="#9000FF"/>
<rect x="145.2" y="962.0" width="2" height="2" fill="#9000FF"/>
<rect x="150.5" y="968.9" width="2" height="2" fill="#9000FF"/>
<rect x="172.0" y="935.6" width="2" height="2" fill="#9000FF"/>
<rect x="128.5" y="951.2" width="2" height="2" fill="#9000FF"/>
<rect x="134.5" y="945.5" width="2" height="2" fill="#9000FF"/>
<rect x="127.0" y="970.1" width="2" height="2" fill="#9000FF"/>
<rect x="172.2" y="934.1" width="2" height="2" fill="#9000FF"/>
<rect x="157.4" y="929.0" width="2" height="2" fill="#9000FF"/>
<rect x="199.7" y="895.0" width="2" height="2" fill="#9000FF"/>
<rect x="199.9" y="901.2" width="2" height="2" fill="#9000FF"/>
<rect x="190.8" y="905.7" width="2" height="2" fill="#9000FF"/>
<rect x="149.0" y="931.0" width="2" height="2" fill="#9000FF"/>
<rect x="148.5" y="943.0" width="2" height="2" fill="#9000FF"/>
<rect x="153.9" y="957.4" width="2" height="2" fill="#9000FF"/>
<rect x="169.6" y="912.4" width="2" height="2" fill="#9000FF"/>
<rect x="173.7" y="917.3" width="2" height="2" fill="#9000FF"/>
<rect x="154.7" y="953.1" width="2" height="2" fill="#9000FF"/>
<rect x="127.8" y="954.6" width="2" height="2" fill="#9000FF"/>
<rect x="149.3" y="931.3" width="2" height="2" fill="#9000FF"/>
<rect x="134.6" y="973.0" width="2" height="2" fill="#9000FF"/>
<rect x="192.0" y="893.3" width="2" height="2" fill="#9000FF"/>
<rect x="153.4" y="967.1" width="2" height="2" fill="#9000FF"/>
<rect x="134.2" y="943.4" width="2" height="2" fill="#9000FF"/>
<rect x="172.2" y="913.0" width="2" height="2" fill="#9000FF"/>
<rect x="142.2" y="969.3" width="2" height="2" fill="#9000FF"/>
<rect x="170.5" y="909.3" width="2" height="2" fill="#9000FF"/>
<rect x="187.2" y="893.2" width="2" height="2" fill="#9000FF"/>
<rect x="136.5" y="972.4" width="2" height="2" fill="#9000FF"/>
<rect x="174.0" y="918.3" width="2" height="2" fill="#9000FF"/>
<rect x="157.7" y="947.9" width="2" height="2" fill="#9000FF"/>
<rect x="124.9" y="951.1" width="2" height="2" fill="#9000FF"/>
<rect x="195.8" y="903.3" width="2" height="2" fill="#9000FF"/>
<rect x="159.7" y="942.0" width="2" height="2" fill="#9000FF"/>
<rect x="188.2" y="909.2" width="2" height="2" fill="#9000FF"/>
<rect x="195.0" y="903.3" width="2" height="2" fill="#9000FF"/>
<rect x="127.1" y="972.8" width="2" height="2" fill="#9000FF"/>
<rect x="141.7" y="941.7" width="2" height="2" fill="#9000FF"/>
<rect x="168.3" y="934.4" width="2" height="2" fill="#9000FF"/>
<rect x="140.6" y="941.5" width="2" height="2" fill="#9000FF"/>
<rect x="182.6" y="905.6" width="2" height="2" fill="#9000FF"/>
<rect x="123.0" y="952.5" width="2" height="2" fill="#9000FF"/>
<rect x="163.9" y="920.4" width="2" height="2" fill="#9000FF"/>
<rect x="139.3" y="969.3" width="2" height="2" fill="#9000FF"/>
<rect x="199.1" y="898.3" width="2" height="2" fill="#9000FF"/>
<rect x="124.3" y="960.0" width="2" height="2" fill="#9000FF"/>
<rect x="134.5" y="943.8" width="2" height="2" fill="#9000FF"/>
<rect x="167.3" y="930.9" width="2" height="2" fill="#9000FF"/>
<rect x="198.3" y="887.9" width="2" height="2" fill="#9000FF"/>
<rect x="133.2" y="942.7" width="2" height="2" fill="#9000FF"/>
<rect x="191.2" y="898.7" width="2" height="2" fill="#9000FF"/>
<rect x="158.4" y="956.4" width="2" height="2" fill="#9000FF"/>
<rect x="195.5" y="888.4" width="2" height="2" fill="#9000FF"/>
<rect x="160.4" y="956.8" width="2" height="2" fill="#9000FF"/>
<rect x="159.3" y="940.3" width="2" height="2" fill="#9000FF"/>
<rect x="128.4" y="954.7" width="2" height="2" fill="#9000FF"/>
<rect x="132.6" y="942.8" width="2" height="2" fill="#9000FF"/>
<rect x="188.3" y="912.9" width="2" height="2" fill="#9000FF"/>
<rect x="150.0" y="932.6" width="2" height="2" fill="#9000FF"/>
<rect x="136.7" y="951.1" width="2" height="2" fill="#9000FF"/>
<rect x="139.0" y="968.4" width="2" height="2" fill="#9000FF"/>
<rect x="149.5" y="932.2" width="2" height="2" fill="#9000FF"/>
<rect x="149.0" y="942.5" width="2" height="2" fill="#9000FF"/>
<rect x="137.8" y="970.5" width="2" height="2" fill="#9000FF"/>
<rect x="120.7" y="954.0" width="2" height="2" fill="#9000FF"/>
<rect x="178.1" y="924.9" width="2" height="2" fill="#9000FF"/>
<rect x="157.4" y="965.2" width="2" height="2" fill="#9000FF"/>
<rect x="188.3" y="907.1" width="2" height="2" fill="#9000FF"/>
<rect x="176.8" y="907.6" width="2" height="2" fill="#9000FF"/>
<rect x="182.3" y="905.5" width="2" height="2" fill="#9000FF"/>
<rect x="130.3" y="950.6" width="2" height="2" fill="#9000FF"/>
<rect x="159.1" y="929.7" width="2" height="2" fill="#9000FF"/>
<rect x="161.0" y="938.4" width="2" height="2" fill="#9000FF"/>
<rect x="133.7" y="943.8" width="2" height="2" fill="#9000FF"/>
<rect x="179.1" y="916.4" width="2" height="2" fill="#9000FF"/>
<rect x="158.8" y="944.2" width="2" height="2" fill="#9000FF"/>
<rect x="121.1" y="951.7" width="2" height="2" fill="#9000FF"/>
<rect x="156.9" y="965.5" width="2" height="2" fill="#9000FF"/>
<rect x="145.0" y="944.0" width="2" height="2" fill="#9000FF"/>
<rect x="128.3" y="949.3" width="2" height="2" fill="#9000FF"/>
<rect x="190.4" y="898.7" width="2" height="2" fill="#9000FF"/>
<rect x="139.3" y="945.1" width="2" height="2" fill="#9000FF"/>
<rect x="134.0" y="969.9" width="2" height="2" fill="#9000FF"/>
<rect x="162.5" y="940.9" width="2" height="2" fill="#9000FF"/>
<rect x="144.1" y="970.2" width="2" height="2" fill="#9000FF"/>
<rect x="198.5" y="902.3" width="2" height="2" fill="#9000FF"/>
<rect x="157.4" y="948.0" width="2" height="2" fill="#9000FF"/>
<rect x="151.3" y="932.6" width="2" height="2" fill="#9000FF"/>
<rect x="195.5" y="902.9" width="2" height="2" fill="#9000FF"/>
<rect x="159.6" y="941.1" width="2" height="2" fill="#9000FF"/>
<rect x="128.3" y="949.5" width="2" height="2" fill="#9000FF"/>
<rect x="128.2" y="952.7" width="2" height="2" fill="#9000FF"/>
<rect x="199.0" y="898.9" width="2" height="2" fill="#9000FF"/>
<rect x="151.3" y="953.1" width="2" height="2" fill="#9000FF"/>
<rect x="140.0" y="972.6" width="2" height="2" fill="#9000FF"/>
<rect x="198.3" y="889.6" width="2" height="2" fill="#9000FF"/>
<rect x="126.3" y="954.1" width="2" height="2" fill="#9000FF"/>
<rect x="130.3" y="960.6" width="2" height="2" fill="#9000FF"/>
<rect x="167.7" y="920.5" width="2" height="2" fill="#9000FF"/>
<rect x="195.0" y="892.6" width="2" height="2" fill="#9000FF"/>
<rect x="131.7" y="960.2" width="2" height="2" fill="#9000FF"/>
<rect x="143.7" y="973.7" width="2" height="2" fill="#9000FF"/>
<rect x="131.1" y="950.6" width="2" height="2" fill="#9000FF"/>
<rect x="176.3" y="921.3" width="2" height="2" fill="#9000FF"/>
<rect x="160.5" y="930.4" width="2" height="2" fill="#9000FF"/>
<rect x="133.3" y="944.1" width="2" height="2" fill="#9000FF"/>
<rect x="175.2" y="910.8" width="2" height="2" fill="#9000FF"/>
<rect x="159.6" y="938.9" width="2" height="2" fill="#9000FF"/>
<rect x="188.5" y="912.8" width="2" height="2" fill="#9000FF"/>
<rect x="155.3" y="930.8" width="2" height="2" fill="#9000FF"/>
<rect x="142.3" y="974.5" width="2" height="2" fill="#5520FF"/>
<rect x="150.7" y="933.8" width="2" height="2" fill="#5520FF"/>
<rect x="188.2" y="901.6" width="2" height="2" fill="#5520FF"/>
<rect x="176.8" y="926.7" width="2" height="2" fill="#5520FF"/>
<rect x="171.0" y="933.3" width="2" height="2" fill="#5520FF"/>
<rect x="130.4" y="959.5" width="2" height="2" fill="#5520FF"/>
<rect x="175.7" y="922.2" width="2" height="2" fill="#5520FF"/>
<rect x="126.8" y="969.1" width="2" height="2" fill="#5520FF"/>
<rect x="144.7" y="942.6" width="2" height="2" fill="#5520FF"/>
<rect x="178.8" y="927.1" width="2" height="2" fill="#5520FF"/>
<rect x="148.1" y="969.8" width="2" height="2" fill="#5520FF"/>
<rect x="154.4" y="965.8" width="2" height="2" fill="#5520FF"/>
<rect x="155.7" y="943.6" width="2" height="2" fill="#5520FF"/>
<rect x="153.2" y="958.1" width="2" height="2" fill="#5520FF"/>
<rect x="170.6" y="911.6" width="2" height="2" fill="#5520FF"/>
<rect x="123.5" y="963.4" width="2" height="2" fill="#5520FF"/>
<rect x="192.7" y="896.1" width="2" height="2" fill="#5520FF"/>
<rect x="163.7" y="934.9" width="2" height="2" fill="#5520FF"/>
<rect x="151.2" y="934.4" width="2" height="2" fill="#5520FF"/>
<rect x="128.9" y="948.4" width="2" height="2" fill="#5520FF"/>
<rect x="171.1" y="933.4" width="2" height="2" fill="#5520FF"/>
<rect x="187.3" y="909.7" width="2" height="2" fill="#5520FF"/>
<rect x="151.8" y="951.4" width="2" height="2" fill="#5520FF"/>
<rect x="132.6" y="943.3" width="2" height="2" fill="#5520FF"/>
<rect x="167.7" y="920.8" width="2" height="2" fill="#5520FF"/>
<rect x="198.5" y="893.2" width="2" height="2" fill="#5520FF"/>
<rect x="126.6" y="971.6" width="2" height="2" fill="#5520FF"/>
<rect x="150.6" y="932.8" width="2" height="2" fill="#5520FF"/>
<rect x="174.5" y="909.6" width="2" height="2" fill="#5520FF"/>
<rect x="153.5" y="953.5" width="2" height="2" fill="#5520FF"/>
<rect x="139.3" y="971.9" width="2" height="2" fill="#5520FF"/>
<rect x="156.6" y="948.4" width="2" height="2" fill="#5520FF"/>
<rect x="146.4" y="960.9" width="2" height="2" fill="#5520FF"/>
<rect x="128.6" y="956.6" width="2" height="2" fill="#5520FF"/>
<rect x="153.0" y="960.8" width="2" height="2" fill="#5520FF"/>
<rect x="150.9" y="939.5" width="2" height="2" fill="#5520FF"/>
<rect x="153.8" y="949.6" width="2" height="2" fill="#5520FF"/>
<rect x="195.4" y="892.2" width="2" height="2" fill="#5520FF"/>
<rect x="123.3" y="952.6" width="2" height="2" fill="#5520FF"/>
<rect x="191.9" y="896.6" width="2" height="2" fill="#5520FF"/>
<rect x="141.5" y="942.3" width="2" height="2" fill="#5520FF"/>
<rect x="164.5" y="930.9" width="2" height="2" fill="#5520FF"/>
<rect x="179.9" y="906.3" width="2" height="2" fill="#5520FF"/>
<rect x="179.1" y="912.6" width="2" height="2" fill="#5520FF"/>
<rect x="175.8" y="922.3" width="2" height="2" fill="#5520FF"/>
<rect x="151.0" y="938.8" width="2" height="2" fill="#5520FF"/>
<rect x="148.8" y="968.9" width="2" height="2" fill="#5520FF"/>
<rect x="167.0" y="920.5" width="2" height="2" fill="#5520FF"/>
<rect x="141.6" y="960.8" width="2" height="2" fill="#5520FF"/>
<rect x="147.7" y="943.9" width="2" height="2" fill="#5520FF"/>
<rect x="151.9" y="952.0" width="2" height="2" fill="#5520FF"/>
<rect x="136.3" y="965.7" width="2" height="2" fill="#5520FF"/>
<rect x="156.8" y="945.0" width="2" height="2" fill="#5520FF"/>
<rect x="176.7" y="928.9" width="2" height="2" fill="#5520FF"/>
<rect x="179.5" y="907.3" width="2" height="2" fill="#5520FF"/>
<rect x="162.8" y="934.7" width="2" height="2" fill="#5520FF"/>
<rect x="141.7" y="942.5" width="2" height="2" fill="#5520FF"/>
<rect x="168.3" y="932.7" width="2" height="2" fill="#5520FF"/>
<rect x="157.0" y="945.5" width="2" height="2" fill="#5520FF"/>
<rect x="175.7" y="915.3" width="2" height="2" fill="#5520FF"/>
<rect x="158.6" y="930.8" width="2" height="2" fill="#5520FF"/>
<rect x="142.6" y="942.5" width="2" height="2" fill="#5520FF"/>
<rect x="141.1" y="959.6" width="2" height="2" fill="#5520FF"/>
<rect x="152.0" y="952.5" width="2" height="2" fill="#5520FF"/>
<rect x="157.7" y="938.8" width="2" height="2" fill="#5520FF"/>
<rect x="159.0" y="937.4" width="2" height="2" fill="#5520FF"/>
<rect x="127.0" y="962.6" width="2" height="2" fill="#5520FF"/>
<rect x="163.9" y="931.5" width="2" height="2" fill="#5520FF"/>
<rect x="162.8" y="925.9" width="2" height="2" fill="#5520FF"/>
<rect x="121.9" y="951.8" width="2" height="2" fill="#5520FF"/>
<rect x="156.9" y="930.6" width="2" height="2" fill="#5520FF"/>
<rect x="155.4" y="931.4" width="2" height="2" fill="#5520FF"/>
<rect x="171.1" y="933.0" width="2" height="2" fill="#5520FF"/>
<rect x="183.1" y="913.9" width="2" height="2" fill="#5520FF"/>
<rect x="188.6" y="902.2" width="2" height="2" fill="#5520FF"/>
<rect x="169.7" y="933.8" width="2" height="2" fill="#5520FF"/>
<rect x="175.6" y="918.0" width="2" height="2" fill="#5520FF"/>
<rect x="142.2" y="958.0" width="2" height="2" fill="#5520FF"/>
<rect x="197.3" y="889.9" width="2" height="2" fill="#5520FF"/>
<rect x="125.5" y="961.2" width="2" height="2" fill="#5520FF"/>
<rect x="191.6" y="905.1" width="2" height="2" fill="#5520FF"/>
<rect x="160.7" y="934.0" width="2" height="2" fill="#5520FF"/>
<rect x="143.0" y="973.4" width="2" height="2" fill="#5520FF"/>
<rect x="163.8" y="934.3" width="2" height="2" fill="#5520FF"/>
<rect x="173.5" y="909.7" width="2" height="2" fill="#5520FF"/>
<rect x="128.3" y="951.3" width="2" height="2" fill="#5520FF"/>
<rect x="180.7" y="906.4" width="2" height="2" fill="#5520FF"/>
<rect x="148.2" y="969.2" width="2" height="2" fill="#5520FF"/>
<rect x="157.9" y="930.3" width="2" height="2" fill="#5520FF"/>
<rect x="162.8" y="933.6" width="2" height="2" fill="#5520FF"/>
<rect x="196.5" y="887.3" width="2" height="2" fill="#5520FF"/>
<rect x="183.0" y="908.2" width="2" height="2" fill="#5520FF"/>
<rect x="195.9" y="890.6" width="2" height="2" fill="#5520FF"/>
<rect x="187.5" y="910.5" width="2" height="2" fill="#5520FF"/>
<rect x="147.0" y="962.0" width="2" height="2" fill="#5520FF"/>
<rect x="139.8" y="944.0" width="2" height="2" fill="#5520FF"/>
<rect x="196.4" y="895.2" width="2" height="2" fill="#5520FF"/>
<rect x="135.7" y="965.7" width="2" height="2" fill="#5520FF"/>
<rect x="151.6" y="948.5" width="2" height="2" fill="#5520FF"/>
<rect x="168.7" y="920.4" width="2" height="2" fill="#5520FF"/>
<rect x="124.6" y="961.8" width="2" height="2" fill="#5520FF"/>
<rect x="177.3" y="927.0" width="2" height="2" fill="#5520FF"/>
<rect x="177.2" y="916.1" width="2" height="2" fill="#5520FF"/>
<rect x="160.7" y="932.2" width="2" height="2" fill="#5520FF"/>
<rect x="153.1" y="938.0" width="2" height="2" fill="#5520FF"/>
<rect x="143.7" y="945.9" width="2" height="2" fill="#5520FF"/>
<rect x="130.6" y="959.2" width="2" height="2" fill="#5520FF"/>
<rect x="172.3" y="920.6" width="2" height="2" fill="#5520FF"/>
<rect x="175.5" y="929.7" width="2" height="2" fill="#5520FF"/>
<rect x="135.0" y="967.0" width="2" height="2" fill="#5520FF"/>
<rect x="152.3" y="948.9" width="2" height="2" fill="#5520FF"/>
<rect x="161.2" y="932.7" width="2" height="2" fill="#5520FF"/>
<rect x="135.1" y="965.2" width="2" height="2" fill="#5520FF"/>
<rect x="125.2" y="962.3" width="2" height="2" fill="#5520FF"/>
<rect x="130.6" y="959.0" width="2" height="2" fill="#5520FF"/>
<rect x="127.4" y="968.0" width="2" height="2" fill="#5520FF"/>
<rect x="197.3" y="890.3" width="2" height="2" fill="#5520FF"/>
<rect x="126.8" y="967.8" width="2" height="2" fill="#5520FF"/>
<rect x="140.7" y="972.3" width="2" height="2" fill="#5520FF"/>
<rect x="177.4" y="927.3" width="2" height="2" fill="#5520FF"/>
<rect x="167.0" y="918.6" width="2" height="2" fill="#5520FF"/>
<rect x="172.1" y="909.2" width="2" height="2" fill="#5520FF"/>
<rect x="188.5" y="905.9" width="2" height="2" fill="#5520FF"/>
<rect x="143.7" y="945.2" width="2" height="2" fill="#5520FF"/>
<rect x="183.8" y="911.4" width="2" height="2" fill="#5520FF"/>
<rect x="191.2" y="903.6" width="2" height="2" fill="#5520FF"/>
<rect x="125.9" y="964.4" width="2" height="2" fill="#5520FF"/>
<rect x="171.4" y="910.9" width="2" height="2" fill="#5520FF"/>
<rect x="144.8" y="966.0" width="2" height="2" fill="#5520FF"/>
<rect x="131.6" y="956.1" width="2" height="2" fill="#5520FF"/>
<rect x="196.9" y="889.7" width="2" height="2" fill="#5520FF"/>
<rect x="183.8" y="912.2" width="2" height="2" fill="#5520FF"/>
<rect x="126.6" y="962.3" width="2" height="2" fill="#5520FF"/>
<rect x="154.6" y="965.4" width="2" height="2" fill="#5520FF"/>
<rect x="174.4" y="931.1" width="2" height="2" fill="#5520FF"/>
<rect x="177.6" y="916.1" width="2" height="2" fill="#5520FF"/>
<rect x="141.1" y="965.0" width="2" height="2" fill="#5520FF"/>
<rect x="146.0" y="966.9" width="2" height="2" fill="#5520FF"/>
<rect x="160.7" y="934.7" width="2" height="2" fill="#5520FF"/>
<rect x="153.6" y="939.5" width="2" height="2" fill="#5520FF"/>
<rect x="191.0" y="900.1" width="2" height="2" fill="#5520FF"/>
<rect x="197.4" y="892.6" width="2" height="2" fill="#5520FF"/>
<rect x="139.0" y="947.3" width="2" height="2" fill="#5520FF"/>
<rect x="173.4" y="912.3" width="2" height="2" fill="#5520FF"/>
<rect x="176.7" y="929.9" width="2" height="2" fill="#5520FF"/>
<rect x="197.3" y="901.8" width="2" height="2" fill="#5520FF"/>
<rect x="174.1" y="931.4" width="2" height="2" fill="#5520FF"/>
<rect x="159.6" y="931.8" width="2" height="2" fill="#5520FF"/>
<rect x="177.2" y="916.1" width="2" height="2" fill="#5520FF"/>
<rect x="186.1" y="910.7" width="2" height="2" fill="#5520FF"/>
<rect x="132.4" y="962.6" width="2" height="2" fill="#5520FF"/>
<rect x="169.2" y="920.3" width="2" height="2" fill="#5520FF"/>
<rect x="194.2" y="896.8" width="2" height="2" fill="#5520FF"/>
<rect x="143.5" y="958.5" width="2" height="2" fill="#5520FF"/>
<rect x="172.2" y="920.3" width="2" height="2" fill="#5520FF"/>
<rect x="131.6" y="956.0" width="2" height="2" fill="#5520FF"/>
<rect x="151.7" y="938.2" width="2" height="2" fill="#5520FF"/>
<rect x="135.6" y="964.5" width="2" height="2" fill="#5520FF"/>
<rect x="147.8" y="962.3" width="2" height="2" fill="#5520FF"/>
<rect x="148.0" y="966.2" width="2" height="2" fill="#5520FF"/>
<rect x="138.4" y="965.9" width="2" height="2" fill="#5520FF"/>
<rect x="196.9" y="899.6" width="2" height="2" fill="#5520FF"/>
<rect x="192.1" y="902.2" width="2" height="2" fill="#5520FF"/>
<rect x="154.6" y="946.6" width="2" height="2" fill="#5520FF"/>
<rect x="140.2" y="961.1" width="2" height="2" fill="#5520FF"/>
<rect x="137.8" y="965.6" width="2" height="2" fill="#5520FF"/>
<rect x="133.0" y="956.1" width="2" height="2" fill="#5520FF"/>
<rect x="152.5" y="942.8" width="2" height="2" fill="#5520FF"/>
<rect x="165.0" y="922.2" width="2" height="2" fill="#5520FF"/>
<rect x="141.2" y="957.2" width="2" height="2" fill="#5520FF"/>
<rect x="196.1" y="895.7" width="2" height="2" fill="#5520FF"/>
<rect x="145.6" y="959.4" width="2" height="2" fill="#5520FF"/>
<rect x="176.0" y="915.7" width="2" height="2" fill="#5520FF"/>
<rect x="154.5" y="943.8" width="2" height="2" fill="#5520FF"/>
<rect x="145.0" y="964.9" width="2" height="2" fill="#5520FF"/>
<rect x="151.4" y="938.5" width="2" height="2" fill="#5520FF"/>
<rect x="146.4" y="968.2" width="2" height="2" fill="#5520FF"/>
<rect x="177.9" y="912.5" width="2" height="2" fill="#5520FF"/>
<rect x="142.2" y="964.9" width="2" height="2" fill="#5520FF"/>
<rect x="145.6" y="967.5" width="2" height="2" fill="#5520FF"/>
<rect x="188.4" y="902.6" width="2" height="2" fill="#5520FF"/>
<rect x="135.3" y="960.3" width="2" height="2" fill="#5520FF"/>
<rect x="163.3" y="929.2" width="2" height="2" fill="#5520FF"/>
<rect x="152.9" y="941.5" width="2" height="2" fill="#5520FF"/>
<rect x="147.2" y="966.6" width="2" height="2" fill="#5520FF"/>
<rect x="152.8" y="942.4" width="2" height="2" fill="#5520FF"/>
<rect x="185.4" y="911.9" width="2" height="2" fill="#5520FF"/>
<rect x="150.1" y="941.5" width="2" height="2" fill="#5520FF"/>
<rect x="153.8" y="964.9" width="2" height="2" fill="#5520FF"/>
<rect x="135.7" y="954.8" width="2" height="2" fill="#5520FF"/>
<rect x="164.3" y="923.2" width="2" height="2" fill="#5520FF"/>
<rect x="176.2" y="914.3" width="2" height="2" fill="#5520FF"/>
<rect x="162.9" y="932.4" width="2" height="2" fill="#5520FF"/>
<rect x="189.9" y="905.1" width="2" height="2" fill="#5520FF"/>
<rect x="149.3" y="965.0" width="2" height="2" fill="#5520FF"/>
<rect x="141.4" y="961.8" width="2" height="2" fill="#5520FF"/>
<rect x="156.5" y="932.8" width="2" height="2" fill="#5520FF"/>
<rect x="185.2" y="912.9" width="2" height="2" fill="#5520FF"/>
<rect x="182.7" y="912.7" width="2" height="2" fill="#5520FF"/>
<rect x="151.2" y="942.6" width="2" height="2" fill="#5520FF"/>
<rect x="152.0" y="947.8" width="2" height="2" fill="#5520FF"/>
<rect x="136.1" y="961.2" width="2" height="2" fill="#5520FF"/>
<rect x="176.3" y="915.2" width="2" height="2" fill="#5520FF"/>
<rect x="126.0" y="964.6" width="2" height="2" fill="#5520FF"/>
<rect x="151.7" y="957.3" width="2" height="2" fill="#5520FF"/>
<rect x="145.9" y="967.3" width="2" height="2" fill="#5520FF"/>
<rect x="180.9" y="907.8" width="2" height="2" fill="#5520FF"/>
<rect x="163.1" y="926.3" width="2" height="2" fill="#5520FF"/>
<rect x="140.5" y="966.3" width="2" height="2" fill="#5520FF"/>
<rect x="150.6" y="952.8" width="2" height="2" fill="#5520FF"/>
<rect x="152.5" y="939.0" width="2" height="2" fill="#5520FF"/>
<rect x="166.9" y="920.0" width="2" height="2" fill="#5520FF"/>
<rect x="143.1" y="965.3" width="2" height="2" fill="#5520FF"/>
<rect x="136.1" y="955.0" width="2" height="2" fill="#1060F0"/>
<rect x="141.7" y="964.4" width="2" height="2" fill="#1060F0"/>
<rect x="190.2" y="903.7" width="2" height="2" fill="#1060F0"/>
<rect x="174.1" y="929.3" width="2" height="2" fill="#1060F0"/>
<rect x="139.9" y="961.2" width="2" height="2" fill="#1060F0"/>
<rect x="178.1" y="912.5" width="2" height="2" fill="#1060F0"/>
<rect x="142.6" y="957.5" width="2" height="2" fill="#1060F0"/>
<rect x="175.5" y="923.1" width="2" height="2" fill="#1060F0"/>
<rect x="189.7" y="902.2" width="2" height="2" fill="#1060F0"/>
<rect x="140.5" y="944.6" width="2" height="2" fill="#1060F0"/>
<rect x="189.7" y="902.4" width="2" height="2" fill="#1060F0"/>
<rect x="191.9" y="899.7" width="2" height="2" fill="#1060F0"/>
<rect x="133.3" y="956.3" width="2" height="2" fill="#1060F0"/>
<rect x="195.5" y="897.7" width="2" height="2" fill="#1060F0"/>
<rect x="152.1" y="935.9" width="2" height="2" fill="#1060F0"/>
<rect x="175.3" y="913.4" width="2" height="2" fill="#1060F0"/>
<rect x="133.6" y="964.2" width="2" height="2" fill="#1060F0"/>
<rect x="153.3" y="946.9" width="2" height="2" fill="#1060F0"/>
<rect x="150.4" y="964.9" width="2" height="2" fill="#1060F0"/>
<rect x="185.7" y="912.4" width="2" height="2" fill="#1060F0"/>
<rect x="192.4" y="903.8" width="2" height="2" fill="#1060F0"/>
<rect x="174.6" y="921.0" width="2" height="2" fill="#1060F0"/>
<rect x="172.5" y="931.9" width="2" height="2" fill="#1060F0"/>
<rect x="141.4" y="961.0" width="2" height="2" fill="#1060F0"/>
<rect x="149.6" y="957.9" width="2" height="2" fill="#1060F0"/>
<rect x="196.1" y="899.4" width="2" height="2" fill="#1060F0"/>
<rect x="145.1" y="965.0" width="2" height="2" fill="#1060F0"/>
<rect x="153.1" y="944.6" width="2" height="2" fill="#1060F0"/>
<rect x="179.5" y="907.9" width="2" height="2" fill="#1060F0"/>
<rect x="182.4" y="909.9" width="2" height="2" fill="#1060F0"/>
<rect x="137.3" y="956.9" width="2" height="2" fill="#1060F0"/>
<rect x="148.3" y="961.2" width="2" height="2" fill="#1060F0"/>
<rect x="138.2" y="951.0" width="2" height="2" fill="#1060F0"/>
<rect x="165.7" y="923.9" width="2" height="2" fill="#1060F0"/>
<rect x="153.1" y="935.6" width="2" height="2" fill="#1060F0"/>
<rect x="190.0" y="903.1" width="2" height="2" fill="#1060F0"/>
<rect x="182.8" y="912.1" width="2" height="2" fill="#1060F0"/>
<rect x="166.4" y="921.2" width="2" height="2" fill="#1060F0"/>
<rect x="137.4" y="952.6" width="2" height="2" fill="#1060F0"/>
<rect x="137.2" y="956.7" width="2" height="2" fill="#1060F0"/>
<rect x="152.0" y="966.0" width="2" height="2" fill="#1060F0"/>
<rect x="133.5" y="964.4" width="2" height="2" fill="#1060F0"/>
<rect x="193.2" y="899.9" width="2" height="2" fill="#1060F0"/>
<rect x="178.3" y="910.2" width="2" height="2" fill="#1060F0"/>
<rect x="190.6" y="901.0" width="2" height="2" fill="#1060F0"/>
<rect x="166.5" y="922.1" width="2" height="2" fill="#1060F0"/>
<rect x="137.6" y="963.5" width="2" height="2" fill="#1060F0"/>
<rect x="138.1" y="960.5" width="2" height="2" fill="#1060F0"/>
<rect x="181.0" y="913.9" width="2" height="2" fill="#1060F0"/>
<rect x="149.4" y="957.9" width="2" height="2" fill="#1060F0"/>
<rect x="174.8" y="927.8" width="2" height="2" fill="#1060F0"/>
<rect x="141.9" y="945.6" width="2" height="2" fill="#1060F0"/>
<rect x="141.6" y="962.6" width="2" height="2" fill="#1060F0"/>
<rect x="175.7" y="928.4" width="2" height="2" fill="#1060F0"/>
<rect x="137.3" y="955.8" width="2" height="2" fill="#1060F0"/>
<rect x="158.4" y="935.0" width="2" height="2" fill="#1060F0"/>
<rect x="193.1" y="898.5" width="2" height="2" fill="#1060F0"/>
<rect x="150.8" y="947.9" width="2" height="2" fill="#1060F0"/>
<rect x="149.6" y="957.8" width="2" height="2" fill="#1060F0"/>
<rect x="196.6" y="899.0" width="2" height="2" fill="#1060F0"/>
<rect x="151.2" y="945.5" width="2" height="2" fill="#1060F0"/>
<rect x="138.3" y="961.7" width="2" height="2" fill="#1060F0"/>
<rect x="137.1" y="960.2" width="2" height="2" fill="#1060F0"/>
<rect x="152.3" y="943.8" width="2" height="2" fill="#1060F0"/>
<rect x="143.5" y="964.8" width="2" height="2" fill="#1060F0"/>
<rect x="179.6" y="912.3" width="2" height="2" fill="#1060F0"/>
<rect x="139.1" y="949.5" width="2" height="2" fill="#1060F0"/>
<rect x="180.4" y="907.9" width="2" height="2" fill="#1060F0"/>
<rect x="171.3" y="929.0" width="2" height="2" fill="#1060F0"/>
<rect x="164.2" y="927.7" width="2" height="2" fill="#1060F0"/>
<rect x="144.0" y="957.1" width="2" height="2" fill="#1060F0"/>
<rect x="135.9" y="962.4" width="2" height="2" fill="#1060F0"/>
<rect x="130.8" y="961.9" width="2" height="2" fill="#1060F0"/>
<rect x="152.0" y="960.2" width="2" height="2" fill="#1060F0"/>
<rect x="144.7" y="956.6" width="2" height="2" fill="#1060F0"/>
<rect x="180.0" y="908.9" width="2" height="2" fill="#1060F0"/>
<rect x="178.0" y="914.3" width="2" height="2" fill="#1060F0"/>
<rect x="151.8" y="960.7" width="2" height="2" fill="#1060F0"/>
<rect x="172.4" y="923.8" width="2" height="2" fill="#1060F0"/>
<rect x="147.5" y="958.6" width="2" height="2" fill="#1060F0"/>
<rect x="167.3" y="929.4" width="2" height="2" fill="#1060F0"/>
<rect x="127.5" y="963.3" width="2" height="2" fill="#1060F0"/>
<rect x="152.6" y="962.6" width="2" height="2" fill="#1060F0"/>
<rect x="157.2" y="936.7" width="2" height="2" fill="#1060F0"/>
<rect x="157.3" y="937.1" width="2" height="2" fill="#1060F0"/>
<rect x="194.8" y="898.3" width="2" height="2" fill="#1060F0"/>
<rect x="146.0" y="958.0" width="2" height="2" fill="#1060F0"/>
<rect x="132.1" y="967.5" width="2" height="2" fill="#1060F0"/>
<rect x="179.6" y="911.0" width="2" height="2" fill="#1060F0"/>
<rect x="194.6" y="898.3" width="2" height="2" fill="#1060F0"/>
<rect x="156.2" y="933.8" width="2" height="2" fill="#1060F0"/>
<rect x="149.9" y="948.7" width="2" height="2" fill="#1060F0"/>
<rect x="139.0" y="949.5" width="2" height="2" fill="#1060F0"/>
<rect x="152.8" y="963.7" width="2" height="2" fill="#1060F0"/>
<rect x="181.8" y="910.1" width="2" height="2" fill="#1060F0"/>
<rect x="176.6" y="913.2" width="2" height="2" fill="#1060F0"/>
<rect x="156.3" y="933.7" width="2" height="2" fill="#1060F0"/>
<rect x="194.7" y="898.0" width="2" height="2" fill="#1060F0"/>
<rect x="149.4" y="964.4" width="2" height="2" fill="#1060F0"/>
<rect x="151.4" y="964.1" width="2" height="2" fill="#1060F0"/>
<rect x="164.4" y="927.9" width="2" height="2" fill="#1060F0"/>
<rect x="141.9" y="963.7" width="2" height="2" fill="#1060F0"/>
<rect x="171.5" y="923.3" width="2" height="2" fill="#1060F0"/>
<rect x="155.9" y="934.8" width="2" height="2" fill="#1060F0"/>
<rect x="196.8" y="900.4" width="2" height="2" fill="#1060F0"/>
<rect x="139.2" y="955.7" width="2" height="2" fill="#1060F0"/>
<rect x="172.0" y="922.5" width="2" height="2" fill="#1060F0"/>
<rect x="136.0" y="958.6" width="2" height="2" fill="#1060F0"/>
<rect x="156.3" y="934.7" width="2" height="2" fill="#1060F0"/>
<rect x="195.0" y="900.0" width="2" height="2" fill="#1060F0"/>
<rect x="152.1" y="945.6" width="2" height="2" fill="#1060F0"/>
<rect x="171.9" y="930.2" width="2" height="2" fill="#1060F0"/>
<rect x="156.2" y="934.0" width="2" height="2" fill="#1060F0"/>
<rect x="132.9" y="964.5" width="2" height="2" fill="#1060F0"/>
<rect x="156.5" y="936.5" width="2" height="2" fill="#1060F0"/>
<rect x="141.7" y="947.1" width="2" height="2" fill="#1060F0"/>
<rect x="149.2" y="948.8" width="2" height="2" fill="#1060F0"/>
<rect x="136.1" y="958.8" width="2" height="2" fill="#1060F0"/>
<rect x="140.5" y="947.3" width="2" height="2" fill="#1060F0"/>
<rect x="155.0" y="936.5" width="2" height="2" fill="#1060F0"/>
<rect x="180.3" y="911.2" width="2" height="2" fill="#1060F0"/>
<rect x="157.0" y="936.8" width="2" height="2" fill="#1060F0"/>
<rect x="148.1" y="946.0" width="2" height="2" fill="#1060F0"/>
<rect x="180.6" y="910.1" width="2" height="2" fill="#1060F0"/>
<rect x="154.7" y="938.0" width="2" height="2" fill="#1060F0"/>
<rect x="147.2" y="946.4" width="2" height="2" fill="#1060F0"/>
<rect x="152.5" y="964.1" width="2" height="2" fill="#00D8F8"/>
<rect x="149.1" y="956.9" width="2" height="2" fill="#00D8F8"/>
<rect x="150.6" y="944.9" width="2" height="2" fill="#00D8F8"/>
<rect x="174.1" y="923.7" width="2" height="2" fill="#00D8F8"/>
<rect x="171.7" y="924.1" width="2" height="2" fill="#00D8F8"/>
<rect x="137.5" y="962.9" width="2" height="2" fill="#00D8F8"/>
<rect x="182.6" y="911.0" width="2" height="2" fill="#00D8F8"/>
<rect x="150.8" y="960.7" width="2" height="2" fill="#00D8F8"/>
<rect x="132.3" y="958.3" width="2" height="2" fill="#00D8F8"/>
<rect x="147.4" y="953.6" width="2" height="2" fill="#00D8F8"/>
<rect x="137.0" y="956.0" width="2" height="2" fill="#00D8F8"/>
<rect x="132.6" y="957.5" width="2" height="2" fill="#00D8F8"/>
<rect x="151.4" y="963.5" width="2" height="2" fill="#00D8F8"/>
<rect x="129.2" y="966.7" width="2" height="2" fill="#00D8F8"/>
<rect x="153.5" y="936.7" width="2" height="2" fill="#00D8F8"/>
<rect x="133.0" y="959.9" width="2" height="2" fill="#00D8F8"/>
<rect x="149.4" y="962.6" width="2" height="2" fill="#00D8F8"/>
<rect x="156.9" y="936.2" width="2" height="2" fill="#00D8F8"/>
<rect x="141.3" y="955.5" width="2" height="2" fill="#00D8F8"/>
<rect x="146.9" y="947.4" width="2" height="2" fill="#00D8F8"/>
<rect x="150.6" y="945.5" width="2" height="2" fill="#00D8F8"/>
<rect x="170.1" y="927.9" width="2" height="2" fill="#00D8F8"/>
<rect x="147.9" y="948.0" width="2" height="2" fill="#00D8F8"/>
<rect x="151.1" y="963.5" width="2" height="2" fill="#00D8F8"/>
<rect x="166.9" y="924.3" width="2" height="2" fill="#00D8F8"/>
<rect x="131.0" y="966.6" width="2" height="2" fill="#00D8F8"/>
<rect x="173.1" y="924.7" width="2" height="2" fill="#00D8F8"/>
<rect x="135.1" y="958.6" width="2" height="2" fill="#00D8F8"/>
<rect x="148.8" y="960.5" width="2" height="2" fill="#00D8F8"/>
<rect x="166.3" y="924.5" width="2" height="2" fill="#00D8F8"/>
<rect x="139.2" y="963.4" width="2" height="2" fill="#00D8F8"/>
<rect x="170.9" y="927.5" width="2" height="2" fill="#00D8F8"/>
<rect x="147.6" y="953.2" width="2" height="2" fill="#00D8F8"/>
<rect x="170.1" y="930.4" width="2" height="2" fill="#00D8F8"/>
<rect x="165.1" y="926.6" width="2" height="2" fill="#00D8F8"/>
<rect x="135.4" y="959.1" width="2" height="2" fill="#00D8F8"/>
<rect x="140.1" y="964.2" width="2" height="2" fill="#00D8F8"/>
<rect x="170.4" y="923.8" width="2" height="2" fill="#00D8F8"/>
<rect x="147.2" y="953.5" width="2" height="2" fill="#00D8F8"/>
<rect x="133.6" y="959.3" width="2" height="2" fill="#00D8F8"/>
<rect x="127.8" y="966.3" width="2" height="2" fill="#00D8F8"/>
<rect x="173.6" y="924.1" width="2" height="2" fill="#00D8F8"/>
<rect x="141.8" y="956.1" width="2" height="2" fill="#00D8F8"/>
<rect x="129.5" y="966.1" width="2" height="2" fill="#00D8F8"/>
<rect x="170.5" y="923.1" width="2" height="2" fill="#00D8F8"/>
<rect x="128.1" y="962.9" width="2" height="2" fill="#00D8F8"/>
<rect x="149.9" y="946.3" width="2" height="2" fill="#00D8F8"/>
<rect x="172.5" y="927.9" width="2" height="2" fill="#00D8F8"/>
<rect x="130.0" y="963.4" width="2" height="2" fill="#00D8F8"/>
<rect x="129.6" y="965.4" width="2" height="2" fill="#00D8F8"/>
<rect x="129.9" y="967.6" width="2" height="2" fill="#00D8F8"/>
<rect x="172.4" y="929.2" width="2" height="2" fill="#00D8F8"/>
<rect x="149.9" y="962.9" width="2" height="2" fill="#00D8F8"/>
<rect x="147.5" y="949.9" width="2" height="2" fill="#00D8F8"/>
<rect x="149.2" y="954.2" width="2" height="2" fill="#00D8F8"/>
<rect x="173.6" y="922.6" width="2" height="2" fill="#00D8F8"/>
<rect x="142.8" y="955.6" width="2" height="2" fill="#00D8F8"/>
<rect x="147.8" y="948.1" width="2" height="2" fill="#00D8F8"/>
<rect x="172.4" y="924.4" width="2" height="2" fill="#00D8F8"/>
<rect x="148.4" y="955.9" width="2" height="2" fill="#00D8F8"/>
<rect x="170.0" y="926.9" width="2" height="2" fill="#00D8F8"/>
<rect x="141.0" y="950.6" width="2" height="2" fill="#00D8F8"/>
<rect x="167.5" y="927.8" width="2" height="2" fill="#00D8F8"/>
<rect x="140.4" y="954.1" width="2" height="2" fill="#00D8F8"/>
<rect x="150.5" y="954.8" width="2" height="2" fill="#00D8F8"/>
<rect x="129.1" y="965.9" width="2" height="2" fill="#00D8F8"/>
<rect x="131.1" y="965.1" width="2" height="2" fill="#00D8F8"/>
<rect x="148.2" y="957.1" width="2" height="2" fill="#00D8F8"/>
<rect x="166.3" y="926.2" width="2" height="2" fill="#00D8F8"/>
<rect x="168.6" y="926.9" width="2" height="2" fill="#00D8F8"/>
<rect x="138.4" y="953.5" width="2" height="2" fill="#00D8F8"/>
<rect x="147.2" y="948.7" width="2" height="2" fill="#00D8F8"/>
<rect x="168.1" y="923.2" width="2" height="2" fill="#00D8F8"/>
<rect x="165.8" y="928.0" width="2" height="2" fill="#00D8F8"/>
<rect x="172.9" y="922.8" width="2" height="2" fill="#00D8F8"/>
<rect x="165.1" y="926.7" width="2" height="2" fill="#00D8F8"/>
<rect x="131.3" y="965.3" width="2" height="2" fill="#00D8F8"/>
<rect x="172.4" y="929.1" width="2" height="2" fill="#00D8F8"/>
<rect x="147.9" y="949.3" width="2" height="2" fill="#00D8F8"/>
<rect x="134.5" y="956.5" width="2" height="2" fill="#00D8F8"/>
<rect x="134.2" y="957.6" width="2" height="2" fill="#00D8F8"/>
<rect x="148.7" y="959.9" width="2" height="2" fill="#00D8F8"/>
<rect x="147.5" y="951.8" width="2" height="2" fill="#00D8F8"/>
<rect x="144.0" y="954.5" width="2" height="2" fill="#00D8F8"/>
<rect x="168.6" y="925.8" width="2" height="2" fill="#00D8F8"/>
<rect x="165.3" y="924.7" width="2" height="2" fill="#00D8F8"/>
<rect x="148.1" y="957.2" width="2" height="2" fill="#00D8F8"/>
<rect x="173.0" y="926.5" width="2" height="2" fill="#18D818"/>
<rect x="146.9" y="955.1" width="2" height="2" fill="#18D818"/>
<rect x="172.6" y="925.4" width="2" height="2" fill="#18D818"/>
<rect x="147.9" y="954.1" width="2" height="2" fill="#18D818"/>
<rect x="129.0" y="964.8" width="2" height="2" fill="#18D818"/>
<rect x="149.6" y="954.4" width="2" height="2" fill="#18D818"/>
<rect x="150.9" y="955.6" width="2" height="2" fill="#18D818"/>
<rect x="167.2" y="927.6" width="2" height="2" fill="#18D818"/>
<rect x="133.9" y="956.4" width="2" height="2" fill="#18D818"/>
<rect x="138.7" y="953.5" width="2" height="2" fill="#18D818"/>
<rect x="154.0" y="936.0" width="2" height="2" fill="#18D818"/>
<rect x="168.8" y="926.5" width="2" height="2" fill="#18D818"/>
<rect x="139.7" y="953.9" width="2" height="2" fill="#18D818"/>
<rect x="166.6" y="925.9" width="2" height="2" fill="#18D818"/>
<rect x="146.8" y="952.3" width="2" height="2" fill="#18D818"/>
<rect x="150.3" y="962.4" width="2" height="2" fill="#18D818"/>
<rect x="171.3" y="927.2" width="2" height="2" fill="#18D818"/>
<rect x="144.8" y="946.9" width="2" height="2" fill="#18D818"/>
<rect x="130.6" y="965.3" width="2" height="2" fill="#18D818"/>
<rect x="166.1" y="926.6" width="2" height="2" fill="#18D818"/>
<rect x="130.1" y="964.6" width="2" height="2" fill="#18D818"/>
<rect x="145.9" y="956.2" width="2" height="2" fill="#18D818"/>
<rect x="141.7" y="949.4" width="2" height="2" fill="#18D818"/>
<rect x="143.0" y="953.5" width="2" height="2" fill="#18D818"/>
<rect x="141.1" y="954.7" width="2" height="2" fill="#18D818"/>
<rect x="144.8" y="953.9" width="2" height="2" fill="#18D818"/>
<rect x="170.7" y="927.2" width="2" height="2" fill="#18D818"/>
<rect x="139.9" y="954.2" width="2" height="2" fill="#18D818"/>
<rect x="146.4" y="954.6" width="2" height="2" fill="#18D818"/>
<rect x="128.2" y="964.7" width="2" height="2" fill="#18D818"/>
<rect x="145.7" y="947.7" width="2" height="2" fill="#18D818"/>
<rect x="139.6" y="951.3" width="2" height="2" fill="#18D818"/>
<rect x="165.6" y="926.9" width="2" height="2" fill="#18D818"/>
<rect x="141.3" y="950.6" width="2" height="2" fill="#18D818"/>
<rect x="145.8" y="950.5" width="2" height="2" fill="#18D818"/>
<rect x="145.7" y="949.4" width="2" height="2" fill="#18D818"/>
<rect x="142.5" y="948.7" width="2" height="2" fill="#18D818"/>
<rect x="141.5" y="949.0" width="2" height="2" fill="#18D818"/>
<rect x="146.4" y="949.1" width="2" height="2" fill="#18D818"/>
<rect x="144.0" y="952.7" width="2" height="2" fill="#18D818"/>
<rect x="144.4" y="954.1" width="2" height="2" fill="#18D818"/>
<rect x="145.2" y="950.5" width="2" height="2" fill="#18D818"/>
<rect x="141.7" y="954.2" width="2" height="2" fill="#18D818"/>
<rect x="144.9" y="947.7" width="2" height="2" fill="#18D818"/>
<rect x="145.8" y="952.0" width="2" height="2" fill="#F0E000"/>
<rect x="141.2" y="949.3" width="2" height="2" fill="#F0E000"/>
<rect x="143.4" y="948.7" width="2" height="2" fill="#F0E000"/>
<rect x="142.2" y="950.1" width="2" height="2" fill="#F0E000"/>
<rect x="140.5" y="952.0" width="2" height="2" fill="#F0E000"/>
<rect x="172.2" y="926.0" width="2" height="2" fill="#F0E000"/>
<rect x="142.1" y="952.9" width="2" height="2" fill="#F0E000"/>
<rect x="143.2" y="950.3" width="2" height="2" fill="#F0E000"/>
<rect x="143.9" y="950.2" width="2" height="2" fill="#F0E000"/>
<rect x="144.5" y="948.4" width="2" height="2" fill="#F0E000"/>
<rect x="144.5" y="949.7" width="2" height="2" fill="#F0E000"/>
<rect x="141.2" y="951.6" width="2" height="2" fill="#F0E000"/>
<rect x="141.3" y="952.0" width="2" height="2" fill="#F07000"/>
<rect x="142.3" y="951.7" width="2" height="2" fill="#F07000"/>
<line x1="118.2" y1="983.9" x2="259.5" y2="839.2" stroke="#EE1C1C" stroke-width="1.6"/>
<rect x="197.70" y="978.9" width="9.72" height="3" fill="#000000"/>
<rect x="207.32" y="978.9" width="9.72" height="3" fill="#9000FF"/>
<rect x="216.94" y="978.9" width="9.72" height="3" fill="#5520FF"/>
<rect x="226.57" y="978.9" width="9.72" height="3" fill="#1060F0"/>
<rect x="236.19" y="978.9" width="9.72" height="3" fill="#00D8F8"/>
<rect x="245.81" y="978.9" width="9.72" height="3" fill="#18D818"/>
<rect x="255.43" y="978.9" width="9.72" height="3" fill="#F0E000"/>
<rect x="265.06" y="978.9" width="9.72" height="3" fill="#F07000"/>
<rect x="274.68" y="978.9" width="9.72" height="3" fill="#E00000"/>
<text x="241.20" y="976.00" font-size="11.2" text-anchor="middle" font-weight="normal" fill="#111" >Density</text>
<line x1="207.32" y1="982" x2="207.32" y2="984.5" stroke="#333" stroke-width="0.7"/>
<text transform="translate(210.92,1005.8) rotate(-90)" font-size="10" fill="#111">0.02</text>
<line x1="216.94" y1="982" x2="216.94" y2="984.5" stroke="#333" stroke-width="0.7"/>
<text transform="translate(220.54,1005.8) rotate(-90)" font-size="10" fill="#111">0.03</text>
<line x1="226.57" y1="982" x2="226.57" y2="984.5" stroke="#333" stroke-width="0.7"/>
<text transform="translate(230.17,1005.8) rotate(-90)" font-size="10" fill="#111">0.05</text>
<line x1="236.19" y1="982" x2="236.19" y2="984.5" stroke="#333" stroke-width="0.7"/>
<text transform="translate(239.79,1005.8) rotate(-90)" font-size="10" fill="#111">0.07</text>
<line x1="245.81" y1="982" x2="245.81" y2="984.5" stroke="#333" stroke-width="0.7"/>
<text transform="translate(249.41,1005.8) rotate(-90)" font-size="10" fill="#111">0.08</text>
<line x1="255.43" y1="982" x2="255.43" y2="984.5" stroke="#333" stroke-width="0.7"/>
<text transform="translate(259.03,1005.8) rotate(-90)" font-size="10" fill="#111">0.10</text>
<line x1="265.06" y1="982" x2="265.06" y2="984.5" stroke="#333" stroke-width="0.7"/>
<text transform="translate(268.66,1005.8) rotate(-90)" font-size="10" fill="#111">0.12</text>
<line x1="274.68" y1="982" x2="274.68" y2="984.5" stroke="#333" stroke-width="0.7"/>
<text transform="translate(278.28,1005.8) rotate(-90)" font-size="10" fill="#111">0.13</text>
<line x1="284.30" y1="982" x2="284.30" y2="984.5" stroke="#333" stroke-width="0.7"/>
<text transform="translate(287.90,1005.8) rotate(-90)" font-size="10" fill="#111">0.15</text>
<text transform="translate(369.9,790.7) scale(1.15,1)" font-size="28" font-weight="bold">f</text>
<rect x="408.0" y="802.2" width="219.50" height="261.00" fill="none" stroke="#222" stroke-width="1.1"/>
<line x1="408.0" y1="912.1" x2="627.50" y2="912.1" stroke="#222" stroke-width="1.1"/>
<line x1="429.95" y1="912.1" x2="429.95" y2="1063.2" stroke="#222" stroke-width="0.9"/>
<line x1="451.90" y1="912.1" x2="451.90" y2="1063.2" stroke="#222" stroke-width="0.9"/>
<line x1="473.85" y1="912.1" x2="473.85" y2="1063.2" stroke="#222" stroke-width="0.9"/>
<line x1="495.80" y1="912.1" x2="495.80" y2="1063.2" stroke="#222" stroke-width="0.9"/>
<line x1="517.75" y1="912.1" x2="517.75" y2="1063.2" stroke="#222" stroke-width="0.9"/>
<line x1="539.70" y1="912.1" x2="539.70" y2="1063.2" stroke="#222" stroke-width="0.9"/>
<line x1="561.65" y1="912.1" x2="561.65" y2="1063.2" stroke="#222" stroke-width="0.9"/>
<line x1="583.60" y1="912.1" x2="583.60" y2="1063.2" stroke="#222" stroke-width="0.9"/>
<line x1="605.55" y1="912.1" x2="605.55" y2="1063.2" stroke="#222" stroke-width="0.9"/>
<line x1="405.3" y1="912.10" x2="408.0" y2="912.10" stroke="#222" stroke-width="1"/>
<text x="403.40" y="915.70" font-size="10.2" text-anchor="end" font-weight="normal" fill="#111" >0</text>
<line x1="405.3" y1="896.41" x2="408.0" y2="896.41" stroke="#222" stroke-width="1"/>
<text x="403.40" y="900.01" font-size="10.2" text-anchor="end" font-weight="normal" fill="#111" >10</text>
<line x1="405.3" y1="880.73" x2="408.0" y2="880.73" stroke="#222" stroke-width="1"/>
<text x="403.40" y="884.33" font-size="10.2" text-anchor="end" font-weight="normal" fill="#111" >20</text>
<line x1="405.3" y1="865.04" x2="408.0" y2="865.04" stroke="#222" stroke-width="1"/>
<text x="403.40" y="868.64" font-size="10.2" text-anchor="end" font-weight="normal" fill="#111" >30</text>
<line x1="405.3" y1="849.36" x2="408.0" y2="849.36" stroke="#222" stroke-width="1"/>
<text x="403.40" y="852.96" font-size="10.2" text-anchor="end" font-weight="normal" fill="#111" >40</text>
<line x1="405.3" y1="833.67" x2="408.0" y2="833.67" stroke="#222" stroke-width="1"/>
<text x="403.40" y="837.27" font-size="10.2" text-anchor="end" font-weight="normal" fill="#111" >50</text>
<line x1="405.3" y1="817.98" x2="408.0" y2="817.98" stroke="#222" stroke-width="1"/>
<text x="403.40" y="821.58" font-size="10.2" text-anchor="end" font-weight="normal" fill="#111" >60</text>
<line x1="405.3" y1="802.30" x2="408.0" y2="802.30" stroke="#222" stroke-width="1"/>
<text x="403.40" y="805.90" font-size="10.2" text-anchor="end" font-weight="normal" fill="#111" >70</text>
<line x1="406.6" y1="904.26" x2="408.0" y2="904.26" stroke="#222" stroke-width="0.8"/>
<line x1="406.6" y1="888.57" x2="408.0" y2="888.57" stroke="#222" stroke-width="0.8"/>
<line x1="406.6" y1="872.88" x2="408.0" y2="872.88" stroke="#222" stroke-width="0.8"/>
<line x1="406.6" y1="857.20" x2="408.0" y2="857.20" stroke="#222" stroke-width="0.8"/>
<line x1="406.6" y1="841.51" x2="408.0" y2="841.51" stroke="#222" stroke-width="0.8"/>
<line x1="406.6" y1="825.83" x2="408.0" y2="825.83" stroke="#222" stroke-width="0.8"/>
<line x1="406.6" y1="810.14" x2="408.0" y2="810.14" stroke="#222" stroke-width="0.8"/>
<text transform="translate(387.9,871.9) rotate(-90)" font-size="12.85" text-anchor="middle" fill="#111">mol% of total lipid [mol%]</text>
<rect x="411.40" y="898.92" width="6.3" height="13.18" fill="#009E73" stroke="#1a1a1a" stroke-width="0.8"/>
<path d="M414.55,897.98 V899.86 M412.75,897.98 H416.35 M412.75,899.86 H416.35" stroke="#111" stroke-width="0.9" fill="none"/>
<rect x="420.30" y="894.85" width="6.3" height="17.25" fill="#E69F00" stroke="#1a1a1a" stroke-width="0.8"/>
<path d="M423.45,885.43 V904.26 M421.65,885.43 H425.25 M421.65,904.26 H425.25" stroke="#111" stroke-width="0.9" fill="none"/>
<text transform="translate(422.78,987.6) rotate(-90)" font-size="10.6" text-anchor="middle" fill="#111">Cholesterol ester</text>
<rect x="433.35" y="907.08" width="6.3" height="5.02" fill="#009E73" stroke="#1a1a1a" stroke-width="0.8"/>
<path d="M436.50,906.45 V907.71 M434.70,906.45 H438.30 M434.70,907.71 H438.30" stroke="#111" stroke-width="0.9" fill="none"/>
<rect x="442.25" y="911.94" width="6.3" height="0.16" fill="#E69F00" stroke="#1a1a1a" stroke-width="0.8"/>
<text transform="translate(444.73,987.6) rotate(-90)" font-size="10.6" text-anchor="middle" fill="#111">Diglyceride</text>
<rect x="455.30" y="911.47" width="6.3" height="0.63" fill="#009E73" stroke="#1a1a1a" stroke-width="0.8"/>
<path d="M458.45,911.16 V911.79 M456.65,911.16 H460.25 M456.65,911.79 H460.25" stroke="#111" stroke-width="0.9" fill="none"/>
<rect x="464.20" y="911.47" width="6.3" height="0.63" fill="#E69F00" stroke="#1a1a1a" stroke-width="0.8"/>
<path d="M467.35,911.16 V911.79 M465.55,911.16 H469.15 M465.55,911.79 H469.15" stroke="#111" stroke-width="0.9" fill="none"/>
<text transform="translate(466.68,987.6) rotate(-90)" font-size="10.6" text-anchor="middle" fill="#111">Phosphatidic acid</text>
<rect x="477.25" y="841.51" width="6.3" height="70.59" fill="#009E73" stroke="#1a1a1a" stroke-width="0.8"/>
<path d="M480.40,839.94 V843.08 M478.60,839.94 H482.20 M478.60,843.08 H482.20" stroke="#111" stroke-width="0.9" fill="none"/>
<rect x="486.15" y="826.45" width="6.3" height="85.65" fill="#E69F00" stroke="#1a1a1a" stroke-width="0.8"/>
<path d="M489.30,823.00 V829.91 M487.50,823.00 H491.10 M487.50,829.91 H491.10" stroke="#111" stroke-width="0.9" fill="none"/>
<text transform="translate(488.63,987.6) rotate(-90)" font-size="10.6" text-anchor="middle" fill="#111">Phosphatidylcholine</text>
<rect x="499.20" y="898.30" width="6.3" height="13.80" fill="#009E73" stroke="#1a1a1a" stroke-width="0.8"/>
<path d="M502.35,897.51 V899.08 M500.55,897.51 H504.15 M500.55,899.08 H504.15" stroke="#111" stroke-width="0.9" fill="none"/>
<rect x="508.10" y="901.59" width="6.3" height="10.51" fill="#E69F00" stroke="#1a1a1a" stroke-width="0.8"/>
<path d="M511.25,900.96 V902.22 M509.45,900.96 H513.05 M509.45,902.22 H513.05" stroke="#111" stroke-width="0.9" fill="none"/>
<text transform="translate(510.58,987.6) rotate(-90)" font-size="10.6" text-anchor="middle" fill="#111">Phosphatidylethanolamine</text>
<rect x="521.15" y="911.63" width="6.3" height="0.47" fill="#009E73" stroke="#1a1a1a" stroke-width="0.8"/>
<path d="M524.30,911.32 V911.94 M522.50,911.32 H526.10 M522.50,911.94 H526.10" stroke="#111" stroke-width="0.9" fill="none"/>
<rect x="530.05" y="911.63" width="6.3" height="0.47" fill="#E69F00" stroke="#1a1a1a" stroke-width="0.8"/>
<path d="M533.20,911.32 V911.94 M531.40,911.32 H535.00 M531.40,911.94 H535.00" stroke="#111" stroke-width="0.9" fill="none"/>
<text transform="translate(532.52,987.6) rotate(-90)" font-size="10.6" text-anchor="middle" fill="#111">Phosphatidylglycerol</text>
<rect x="543.10" y="900.02" width="6.3" height="12.08" fill="#009E73" stroke="#1a1a1a" stroke-width="0.8"/>
<path d="M546.25,899.08 V900.96 M544.45,899.08 H548.05 M544.45,900.96 H548.05" stroke="#111" stroke-width="0.9" fill="none"/>
<rect x="552.00" y="906.30" width="6.3" height="5.80" fill="#E69F00" stroke="#1a1a1a" stroke-width="0.8"/>
<path d="M555.15,905.83 V906.77 M553.35,905.83 H556.95 M553.35,906.77 H556.95" stroke="#111" stroke-width="0.9" fill="none"/>
<text transform="translate(554.48,987.6) rotate(-90)" font-size="10.6" text-anchor="middle" fill="#111">Phosphatidylinositol</text>
<rect x="565.05" y="906.30" width="6.3" height="5.80" fill="#009E73" stroke="#1a1a1a" stroke-width="0.8"/>
<path d="M568.20,905.67 V906.92 M566.40,905.67 H570.00 M566.40,906.92 H570.00" stroke="#111" stroke-width="0.9" fill="none"/>
<rect x="573.95" y="889.98" width="6.3" height="22.12" fill="#E69F00" stroke="#1a1a1a" stroke-width="0.8"/>
<path d="M577.10,888.73 V891.24 M575.30,888.73 H578.90 M575.30,891.24 H578.90" stroke="#111" stroke-width="0.9" fill="none"/>
<text transform="translate(576.42,987.6) rotate(-90)" font-size="10.6" text-anchor="middle" fill="#111">Phosphatidylserine</text>
<rect x="587.00" y="909.75" width="6.3" height="2.35" fill="#009E73" stroke="#1a1a1a" stroke-width="0.8"/>
<path d="M590.15,909.28 V910.22 M588.35,909.28 H591.95 M588.35,910.22 H591.95" stroke="#111" stroke-width="0.9" fill="none"/>
<rect x="595.90" y="898.77" width="6.3" height="13.33" fill="#E69F00" stroke="#1a1a1a" stroke-width="0.8"/>
<path d="M599.05,897.83 V899.71 M597.25,897.83 H600.85 M597.25,899.71 H600.85" stroke="#111" stroke-width="0.9" fill="none"/>
<text transform="translate(598.38,987.6) rotate(-90)" font-size="10.6" text-anchor="middle" fill="#111">Sphingomyelin</text>
<rect x="608.95" y="880.57" width="6.3" height="31.53" fill="#009E73" stroke="#1a1a1a" stroke-width="0.8"/>
<path d="M612.10,879.79 V881.36 M610.30,879.79 H613.90 M610.30,881.36 H613.90" stroke="#111" stroke-width="0.9" fill="none"/>
<rect x="617.85" y="911.94" width="6.3" height="0.16" fill="#E69F00" stroke="#1a1a1a" stroke-width="0.8"/>
<text transform="translate(620.32,987.6) rotate(-90)" font-size="10.6" text-anchor="middle" fill="#111">Triglyceride</text>
<path d="M436.5,907.0 V902.4 H445.6 V911.6" fill="none" stroke="#222" stroke-width="0.9"/>
<text x="441.30" y="899.90" font-size="10.5" text-anchor="middle" font-weight="normal" fill="#111" >***</text>
<path d="M480.1,838.9 V818.3 H489.5 V822.4" fill="none" stroke="#222" stroke-width="0.9"/>
<text x="484.70" y="816.20" font-size="10.5" text-anchor="middle" font-weight="normal" fill="#111" >*</text>
<path d="M502.4,897.5 V893.5 H511.5 V900.6" fill="none" stroke="#222" stroke-width="0.9"/>
<text x="506.60" y="891.70" font-size="10.5" text-anchor="middle" font-weight="normal" fill="#111" >**</text>
<path d="M524.6,911.0 V906.0 H533.2 V908.5" fill="none" stroke="#222" stroke-width="0.9"/>
<text x="528.60" y="904.90" font-size="10.5" text-anchor="middle" font-weight="normal" fill="#111" >*</text>
<path d="M545.5,899.0 V895.6 H555.4 V904.5" fill="none" stroke="#222" stroke-width="0.9"/>
<text x="550.70" y="893.80" font-size="10.5" text-anchor="middle" font-weight="normal" fill="#111" >**</text>
<path d="M568.2,905.0 V883.4 H577.1 V889.3" fill="none" stroke="#222" stroke-width="0.9"/>
<text x="572.90" y="881.60" font-size="10.5" text-anchor="middle" font-weight="normal" fill="#111" >**</text>
<path d="M590.4,908.5 V893.5 H598.8 V898.6" fill="none" stroke="#222" stroke-width="0.9"/>
<text x="594.10" y="891.00" font-size="10.5" text-anchor="middle" font-weight="normal" fill="#111" >**</text>
<path d="M613.3,880.0 V875.7 H621.0 V911.0" fill="none" stroke="#222" stroke-width="0.9"/>
<text x="616.30" y="873.50" font-size="10.5" text-anchor="middle" font-weight="normal" fill="#111" >***</text>
<rect x="532" y="808" width="24.1" height="11.7" fill="#009E73" stroke="#1a1a1a" stroke-width="0.8"/>
<rect x="532" y="821.5" width="24.1" height="11.7" fill="#E69F00" stroke="#1a1a1a" stroke-width="0.8"/>
<text x="559.10" y="817.60" font-size="10.6" text-anchor="start" font-weight="normal" fill="#111" >Huh7 cells</text>
<text x="559.10" y="830.00" font-size="10.6" text-anchor="start" font-weight="normal" fill="#111" >Huh7 nPMVs</text>
</svg></body></html>
